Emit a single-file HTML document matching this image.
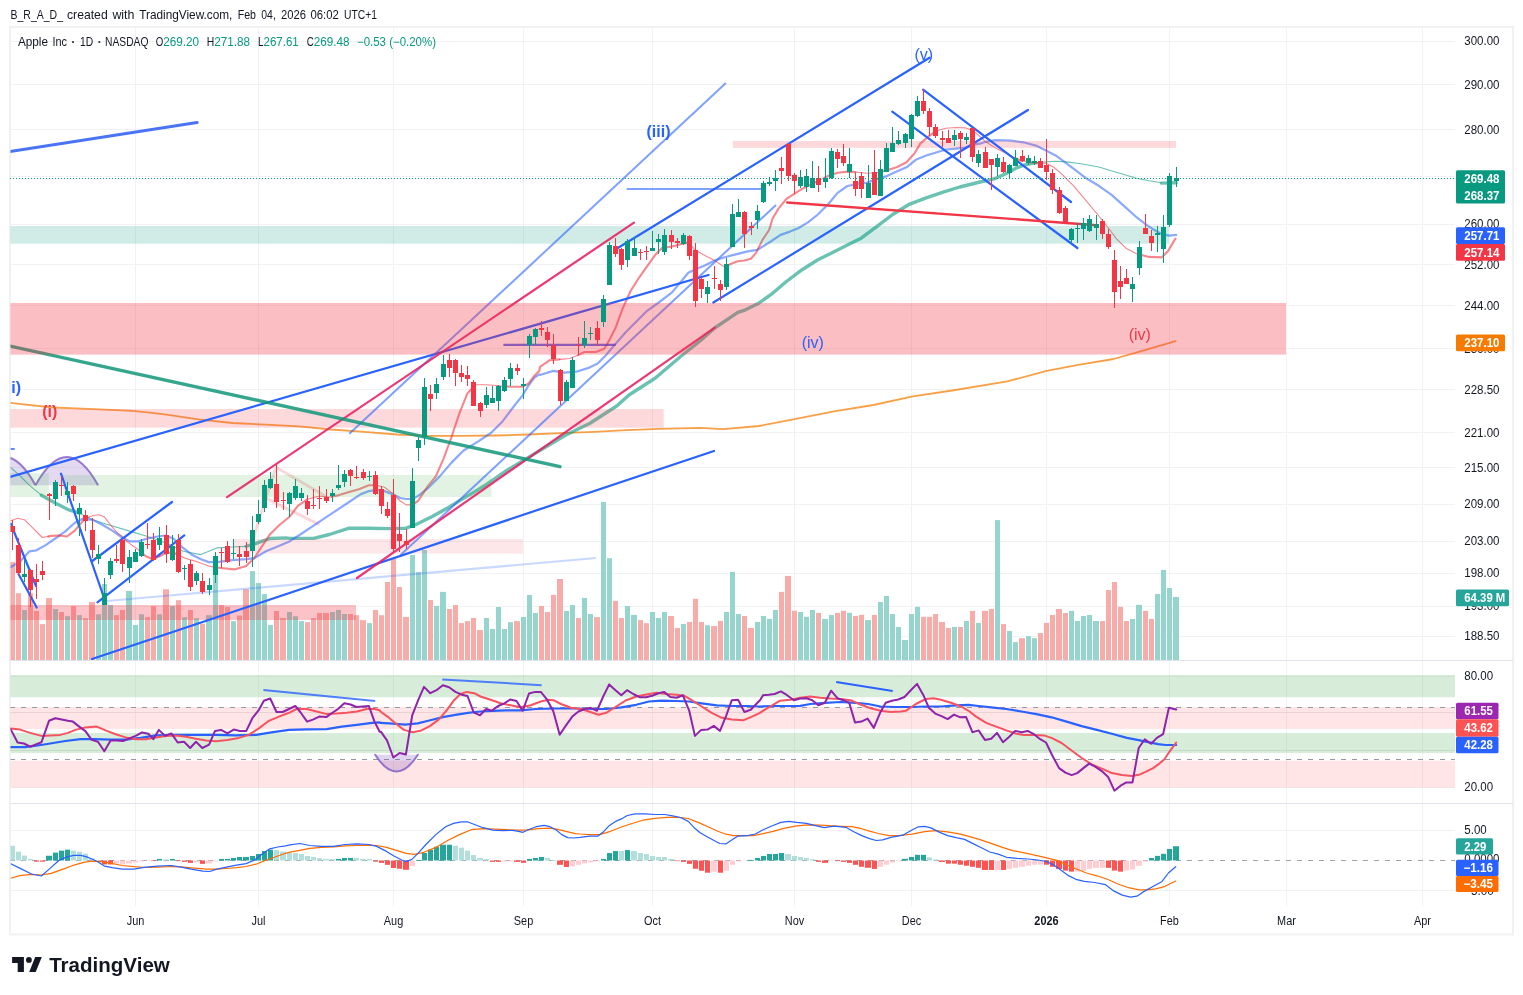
<!DOCTYPE html><html><head><meta charset="utf-8"><title>AAPL chart</title><style>html,body{margin:0;padding:0;background:#fff}body{width:1523px;height:995px;overflow:hidden}svg{will-change:transform}</style></head><body><svg width="1523" height="995" viewBox="0 0 1523 995" style="display:block;font-family:'Liberation Sans',sans-serif">
<rect x="0.00" y="0.00" width="1523.00" height="995.00" fill="#ffffff" />
<rect x="10" y="27" width="1503" height="907.4" fill="#fff" stroke="#f0f1f3" stroke-width="2"/>
<defs><clipPath id="cm"><rect x="10.5" y="27.5" width="1444.5" height="632.5"/></clipPath><clipPath id="cr"><rect x="10.5" y="661" width="1444.5" height="142"/></clipPath><clipPath id="cd"><rect x="10.5" y="804" width="1444.5" height="102.5"/></clipPath></defs>
<line x1="135.5" y1="27.0" x2="135.5" y2="906.5" stroke="#f0f2f3" stroke-width="1" />
<line x1="258.5" y1="27.0" x2="258.5" y2="906.5" stroke="#f0f2f3" stroke-width="1" />
<line x1="393.5" y1="27.0" x2="393.5" y2="906.5" stroke="#f0f2f3" stroke-width="1" />
<line x1="523.5" y1="27.0" x2="523.5" y2="906.5" stroke="#f0f2f3" stroke-width="1" />
<line x1="652.5" y1="27.0" x2="652.5" y2="906.5" stroke="#f0f2f3" stroke-width="1" />
<line x1="794.5" y1="27.0" x2="794.5" y2="906.5" stroke="#f0f2f3" stroke-width="1" />
<line x1="911.5" y1="27.0" x2="911.5" y2="906.5" stroke="#f0f2f3" stroke-width="1" />
<line x1="1046.5" y1="27.0" x2="1046.5" y2="906.5" stroke="#f0f2f3" stroke-width="1" />
<line x1="1169.5" y1="27.0" x2="1169.5" y2="906.5" stroke="#f0f2f3" stroke-width="1" />
<line x1="1286.5" y1="27.0" x2="1286.5" y2="906.5" stroke="#f0f2f3" stroke-width="1" />
<line x1="1422.5" y1="27.0" x2="1422.5" y2="906.5" stroke="#f0f2f3" stroke-width="1" />
<line x1="10.0" y1="41.5" x2="1455.0" y2="41.5" stroke="#f0f2f3" stroke-width="1" />
<line x1="10.0" y1="84.5" x2="1455.0" y2="84.5" stroke="#f0f2f3" stroke-width="1" />
<line x1="10.0" y1="129.5" x2="1455.0" y2="129.5" stroke="#f0f2f3" stroke-width="1" />
<line x1="10.0" y1="176.5" x2="1455.0" y2="176.5" stroke="#f0f2f3" stroke-width="1" />
<line x1="10.0" y1="224.5" x2="1455.0" y2="224.5" stroke="#f0f2f3" stroke-width="1" />
<line x1="10.0" y1="264.5" x2="1455.0" y2="264.5" stroke="#f0f2f3" stroke-width="1" />
<line x1="10.0" y1="305.5" x2="1455.0" y2="305.5" stroke="#f0f2f3" stroke-width="1" />
<line x1="10.0" y1="348.5" x2="1455.0" y2="348.5" stroke="#f0f2f3" stroke-width="1" />
<line x1="10.0" y1="389.5" x2="1455.0" y2="389.5" stroke="#f0f2f3" stroke-width="1" />
<line x1="10.0" y1="432.5" x2="1455.0" y2="432.5" stroke="#f0f2f3" stroke-width="1" />
<line x1="10.0" y1="467.5" x2="1455.0" y2="467.5" stroke="#f0f2f3" stroke-width="1" />
<line x1="10.0" y1="504.5" x2="1455.0" y2="504.5" stroke="#f0f2f3" stroke-width="1" />
<line x1="10.0" y1="541.5" x2="1455.0" y2="541.5" stroke="#f0f2f3" stroke-width="1" />
<line x1="10.0" y1="573.5" x2="1455.0" y2="573.5" stroke="#f0f2f3" stroke-width="1" />
<line x1="10.0" y1="606.5" x2="1455.0" y2="606.5" stroke="#f0f2f3" stroke-width="1" />
<line x1="10.0" y1="636.5" x2="1455.0" y2="636.5" stroke="#f0f2f3" stroke-width="1" />
<line x1="10.0" y1="676.5" x2="1455.0" y2="676.5" stroke="#f0f2f3" stroke-width="1" />
<line x1="10.0" y1="787.5" x2="1455.0" y2="787.5" stroke="#f0f2f3" stroke-width="1" />
<line x1="10.0" y1="830.5" x2="1455.0" y2="830.5" stroke="#f0f2f3" stroke-width="1" />
<line x1="10.0" y1="890.5" x2="1455.0" y2="890.5" stroke="#f0f2f3" stroke-width="1" />
<line x1="10.0" y1="660.5" x2="1513.0" y2="660.5" stroke="#e0e3eb" stroke-width="1" />
<line x1="10.0" y1="803.5" x2="1513.0" y2="803.5" stroke="#e0e3eb" stroke-width="1" />
<g clip-path="url(#cm)">
<rect x="10.00" y="561.99" width="5.00" height="98.01" fill="#f7a9a7" opacity="0.96"/>
<rect x="16.00" y="593.20" width="5.00" height="66.80" fill="#f7a9a7" opacity="0.96"/>
<rect x="22.00" y="610.05" width="5.00" height="49.95" fill="#92d2cc" opacity="0.96"/>
<rect x="28.00" y="593.20" width="5.00" height="66.80" fill="#f7a9a7" opacity="0.96"/>
<rect x="34.00" y="610.97" width="5.00" height="49.03" fill="#f7a9a7" opacity="0.96"/>
<rect x="40.00" y="624.14" width="5.00" height="35.86" fill="#f7a9a7" opacity="0.96"/>
<rect x="46.00" y="598.07" width="6.00" height="61.93" fill="#f7a9a7" opacity="0.96"/>
<rect x="53.00" y="609.00" width="5.00" height="51.00" fill="#92d2cc" opacity="0.96"/>
<rect x="59.00" y="612.03" width="5.00" height="47.97" fill="#f7a9a7" opacity="0.96"/>
<rect x="65.00" y="616.24" width="5.00" height="43.76" fill="#92d2cc" opacity="0.96"/>
<rect x="71.00" y="605.97" width="5.00" height="54.03" fill="#f7a9a7" opacity="0.96"/>
<rect x="77.00" y="615.19" width="5.00" height="44.81" fill="#92d2cc" opacity="0.96"/>
<rect x="83.00" y="618.22" width="5.00" height="41.78" fill="#f7a9a7" opacity="0.96"/>
<rect x="89.00" y="602.02" width="6.00" height="57.98" fill="#f7a9a7" opacity="0.96"/>
<rect x="96.00" y="614.27" width="5.00" height="45.73" fill="#92d2cc" opacity="0.96"/>
<rect x="102.00" y="583.98" width="5.00" height="76.02" fill="#92d2cc" opacity="0.96"/>
<rect x="108.00" y="605.05" width="5.00" height="54.95" fill="#92d2cc" opacity="0.96"/>
<rect x="114.00" y="615.19" width="5.00" height="44.81" fill="#f7a9a7" opacity="0.96"/>
<rect x="120.00" y="609.92" width="5.00" height="50.08" fill="#f7a9a7" opacity="0.96"/>
<rect x="126.00" y="590.96" width="6.00" height="69.04" fill="#92d2cc" opacity="0.96"/>
<rect x="133.00" y="625.06" width="5.00" height="34.94" fill="#92d2cc" opacity="0.96"/>
<rect x="139.00" y="614.27" width="5.00" height="45.73" fill="#92d2cc" opacity="0.96"/>
<rect x="145.00" y="617.16" width="5.00" height="42.84" fill="#f7a9a7" opacity="0.96"/>
<rect x="151.00" y="605.97" width="5.00" height="54.03" fill="#f7a9a7" opacity="0.96"/>
<rect x="157.00" y="614.27" width="5.00" height="45.73" fill="#92d2cc" opacity="0.96"/>
<rect x="163.00" y="589.25" width="6.00" height="70.75" fill="#f7a9a7" opacity="0.96"/>
<rect x="170.00" y="605.97" width="5.00" height="54.03" fill="#92d2cc" opacity="0.96"/>
<rect x="176.00" y="600.18" width="5.00" height="59.82" fill="#f7a9a7" opacity="0.96"/>
<rect x="182.00" y="617.16" width="5.00" height="42.84" fill="#92d2cc" opacity="0.96"/>
<rect x="188.00" y="610.05" width="5.00" height="49.95" fill="#f7a9a7" opacity="0.96"/>
<rect x="194.00" y="618.22" width="5.00" height="41.78" fill="#92d2cc" opacity="0.96"/>
<rect x="200.00" y="623.75" width="5.00" height="36.25" fill="#f7a9a7" opacity="0.96"/>
<rect x="206.00" y="615.19" width="6.00" height="44.81" fill="#92d2cc" opacity="0.96"/>
<rect x="213.00" y="575.03" width="5.00" height="84.97" fill="#92d2cc" opacity="0.96"/>
<rect x="219.00" y="605.05" width="5.00" height="54.95" fill="#f7a9a7" opacity="0.96"/>
<rect x="225.00" y="607.02" width="5.00" height="52.98" fill="#f7a9a7" opacity="0.96"/>
<rect x="231.00" y="621.11" width="5.00" height="38.89" fill="#92d2cc" opacity="0.96"/>
<rect x="237.00" y="615.58" width="5.00" height="44.42" fill="#f7a9a7" opacity="0.96"/>
<rect x="243.00" y="589.25" width="6.00" height="70.75" fill="#f7a9a7" opacity="0.96"/>
<rect x="250.00" y="571.08" width="5.00" height="88.92" fill="#92d2cc" opacity="0.96"/>
<rect x="256.00" y="583.06" width="5.00" height="76.94" fill="#92d2cc" opacity="0.96"/>
<rect x="262.00" y="594.12" width="5.00" height="65.88" fill="#92d2cc" opacity="0.96"/>
<rect x="268.00" y="625.06" width="5.00" height="34.94" fill="#92d2cc" opacity="0.96"/>
<rect x="274.00" y="610.97" width="5.00" height="49.03" fill="#f7a9a7" opacity="0.96"/>
<rect x="280.00" y="617.95" width="6.00" height="42.05" fill="#f7a9a7" opacity="0.96"/>
<rect x="287.00" y="612.03" width="5.00" height="47.97" fill="#92d2cc" opacity="0.96"/>
<rect x="293.00" y="616.24" width="5.00" height="43.76" fill="#92d2cc" opacity="0.96"/>
<rect x="299.00" y="621.11" width="5.00" height="38.89" fill="#92d2cc" opacity="0.96"/>
<rect x="305.00" y="622.17" width="5.00" height="37.83" fill="#f7a9a7" opacity="0.96"/>
<rect x="311.00" y="617.95" width="5.00" height="42.05" fill="#f7a9a7" opacity="0.96"/>
<rect x="317.00" y="612.95" width="5.00" height="47.05" fill="#f7a9a7" opacity="0.96"/>
<rect x="323.00" y="612.95" width="6.00" height="47.05" fill="#f7a9a7" opacity="0.96"/>
<rect x="330.00" y="612.03" width="5.00" height="47.97" fill="#92d2cc" opacity="0.96"/>
<rect x="336.00" y="609.92" width="5.00" height="50.08" fill="#92d2cc" opacity="0.96"/>
<rect x="342.00" y="614.00" width="5.00" height="46.00" fill="#92d2cc" opacity="0.96"/>
<rect x="348.00" y="614.00" width="5.00" height="46.00" fill="#f7a9a7" opacity="0.96"/>
<rect x="354.00" y="615.19" width="5.00" height="44.81" fill="#f7a9a7" opacity="0.96"/>
<rect x="360.00" y="620.19" width="6.00" height="39.81" fill="#f7a9a7" opacity="0.96"/>
<rect x="367.00" y="623.09" width="5.00" height="36.91" fill="#92d2cc" opacity="0.96"/>
<rect x="373.00" y="609.92" width="5.00" height="50.08" fill="#f7a9a7" opacity="0.96"/>
<rect x="379.00" y="615.19" width="5.00" height="44.81" fill="#f7a9a7" opacity="0.96"/>
<rect x="385.00" y="582.01" width="5.00" height="77.99" fill="#f7a9a7" opacity="0.96"/>
<rect x="391.00" y="558.31" width="5.00" height="101.69" fill="#f7a9a7" opacity="0.96"/>
<rect x="397.00" y="587.01" width="5.00" height="72.99" fill="#f7a9a7" opacity="0.96"/>
<rect x="403.00" y="616.90" width="6.00" height="43.10" fill="#f7a9a7" opacity="0.96"/>
<rect x="410.00" y="555.02" width="5.00" height="104.98" fill="#92d2cc" opacity="0.96"/>
<rect x="416.00" y="572.13" width="5.00" height="87.87" fill="#92d2cc" opacity="0.96"/>
<rect x="422.00" y="550.01" width="5.00" height="109.99" fill="#92d2cc" opacity="0.96"/>
<rect x="428.00" y="600.05" width="5.00" height="59.95" fill="#f7a9a7" opacity="0.96"/>
<rect x="434.00" y="605.97" width="5.00" height="54.03" fill="#92d2cc" opacity="0.96"/>
<rect x="440.00" y="591.88" width="6.00" height="68.12" fill="#92d2cc" opacity="0.96"/>
<rect x="447.00" y="609.00" width="5.00" height="51.00" fill="#f7a9a7" opacity="0.96"/>
<rect x="453.00" y="605.05" width="5.00" height="54.95" fill="#f7a9a7" opacity="0.96"/>
<rect x="459.00" y="623.09" width="5.00" height="36.91" fill="#f7a9a7" opacity="0.96"/>
<rect x="465.00" y="621.11" width="5.00" height="38.89" fill="#f7a9a7" opacity="0.96"/>
<rect x="471.00" y="617.95" width="5.00" height="42.05" fill="#f7a9a7" opacity="0.96"/>
<rect x="477.00" y="630.07" width="6.00" height="29.93" fill="#f7a9a7" opacity="0.96"/>
<rect x="484.00" y="617.95" width="5.00" height="42.05" fill="#92d2cc" opacity="0.96"/>
<rect x="490.00" y="629.01" width="5.00" height="30.99" fill="#92d2cc" opacity="0.96"/>
<rect x="496.00" y="607.02" width="5.00" height="52.98" fill="#92d2cc" opacity="0.96"/>
<rect x="502.00" y="629.01" width="5.00" height="30.99" fill="#92d2cc" opacity="0.96"/>
<rect x="508.00" y="622.17" width="5.00" height="37.83" fill="#92d2cc" opacity="0.96"/>
<rect x="514.00" y="621.11" width="6.00" height="38.89" fill="#f7a9a7" opacity="0.96"/>
<rect x="521.00" y="616.90" width="5.00" height="43.10" fill="#92d2cc" opacity="0.96"/>
<rect x="527.00" y="594.91" width="5.00" height="65.09" fill="#92d2cc" opacity="0.96"/>
<rect x="533.00" y="612.95" width="5.00" height="47.05" fill="#92d2cc" opacity="0.96"/>
<rect x="539.00" y="605.97" width="5.00" height="54.03" fill="#f7a9a7" opacity="0.96"/>
<rect x="545.00" y="612.03" width="5.00" height="47.97" fill="#f7a9a7" opacity="0.96"/>
<rect x="551.00" y="594.91" width="5.00" height="65.09" fill="#f7a9a7" opacity="0.96"/>
<rect x="557.00" y="578.98" width="6.00" height="81.02" fill="#f7a9a7" opacity="0.96"/>
<rect x="564.00" y="610.97" width="5.00" height="49.03" fill="#92d2cc" opacity="0.96"/>
<rect x="570.00" y="605.05" width="5.00" height="54.95" fill="#92d2cc" opacity="0.96"/>
<rect x="576.00" y="618.01" width="5.00" height="41.99" fill="#f7a9a7" opacity="0.96"/>
<rect x="582.00" y="597.90" width="5.00" height="62.10" fill="#92d2cc" opacity="0.96"/>
<rect x="588.00" y="614.05" width="5.00" height="45.95" fill="#92d2cc" opacity="0.96"/>
<rect x="594.00" y="617.15" width="6.00" height="42.85" fill="#f7a9a7" opacity="0.96"/>
<rect x="601.00" y="502.03" width="5.00" height="157.97" fill="#92d2cc" opacity="0.96"/>
<rect x="607.00" y="558.21" width="5.00" height="101.79" fill="#92d2cc" opacity="0.96"/>
<rect x="613.00" y="600.82" width="5.00" height="59.18" fill="#f7a9a7" opacity="0.96"/>
<rect x="619.00" y="618.01" width="5.00" height="41.99" fill="#f7a9a7" opacity="0.96"/>
<rect x="625.00" y="605.98" width="5.00" height="54.02" fill="#92d2cc" opacity="0.96"/>
<rect x="631.00" y="614.91" width="6.00" height="45.09" fill="#92d2cc" opacity="0.96"/>
<rect x="638.00" y="620.07" width="5.00" height="39.93" fill="#f7a9a7" opacity="0.96"/>
<rect x="644.00" y="623.16" width="5.00" height="36.84" fill="#f7a9a7" opacity="0.96"/>
<rect x="650.00" y="611.99" width="5.00" height="48.01" fill="#92d2cc" opacity="0.96"/>
<rect x="656.00" y="618.01" width="5.00" height="41.99" fill="#92d2cc" opacity="0.96"/>
<rect x="662.00" y="611.99" width="5.00" height="48.01" fill="#92d2cc" opacity="0.96"/>
<rect x="668.00" y="615.95" width="6.00" height="44.05" fill="#f7a9a7" opacity="0.96"/>
<rect x="675.00" y="627.97" width="5.00" height="32.03" fill="#f7a9a7" opacity="0.96"/>
<rect x="681.00" y="624.02" width="5.00" height="35.98" fill="#92d2cc" opacity="0.96"/>
<rect x="687.00" y="621.96" width="5.00" height="38.04" fill="#f7a9a7" opacity="0.96"/>
<rect x="693.00" y="598.76" width="5.00" height="61.24" fill="#f7a9a7" opacity="0.96"/>
<rect x="699.00" y="621.96" width="5.00" height="38.04" fill="#f7a9a7" opacity="0.96"/>
<rect x="705.00" y="625.22" width="5.00" height="34.78" fill="#92d2cc" opacity="0.96"/>
<rect x="711.00" y="626.08" width="6.00" height="33.92" fill="#f7a9a7" opacity="0.96"/>
<rect x="718.00" y="620.93" width="5.00" height="39.07" fill="#f7a9a7" opacity="0.96"/>
<rect x="724.00" y="611.99" width="5.00" height="48.01" fill="#92d2cc" opacity="0.96"/>
<rect x="730.00" y="571.96" width="5.00" height="88.04" fill="#92d2cc" opacity="0.96"/>
<rect x="736.00" y="614.05" width="5.00" height="45.95" fill="#92d2cc" opacity="0.96"/>
<rect x="742.00" y="615.95" width="5.00" height="44.05" fill="#f7a9a7" opacity="0.96"/>
<rect x="748.00" y="627.97" width="6.00" height="32.03" fill="#f7a9a7" opacity="0.96"/>
<rect x="755.00" y="621.96" width="5.00" height="38.04" fill="#92d2cc" opacity="0.96"/>
<rect x="761.00" y="615.95" width="5.00" height="44.05" fill="#92d2cc" opacity="0.96"/>
<rect x="767.00" y="618.87" width="5.00" height="41.13" fill="#92d2cc" opacity="0.96"/>
<rect x="773.00" y="609.93" width="5.00" height="50.07" fill="#92d2cc" opacity="0.96"/>
<rect x="779.00" y="591.89" width="5.00" height="68.11" fill="#f7a9a7" opacity="0.96"/>
<rect x="785.00" y="575.91" width="6.00" height="84.09" fill="#f7a9a7" opacity="0.96"/>
<rect x="792.00" y="610.79" width="5.00" height="49.21" fill="#f7a9a7" opacity="0.96"/>
<rect x="798.00" y="611.99" width="5.00" height="48.01" fill="#92d2cc" opacity="0.96"/>
<rect x="804.00" y="616.80" width="5.00" height="43.20" fill="#92d2cc" opacity="0.96"/>
<rect x="810.00" y="609.93" width="5.00" height="50.07" fill="#92d2cc" opacity="0.96"/>
<rect x="816.00" y="612.85" width="5.00" height="47.15" fill="#f7a9a7" opacity="0.96"/>
<rect x="822.00" y="618.87" width="6.00" height="41.13" fill="#92d2cc" opacity="0.96"/>
<rect x="829.00" y="614.91" width="5.00" height="45.09" fill="#92d2cc" opacity="0.96"/>
<rect x="835.00" y="612.85" width="5.00" height="47.15" fill="#f7a9a7" opacity="0.96"/>
<rect x="841.00" y="610.79" width="5.00" height="49.21" fill="#f7a9a7" opacity="0.96"/>
<rect x="847.00" y="612.85" width="5.00" height="47.15" fill="#92d2cc" opacity="0.96"/>
<rect x="853.00" y="615.95" width="5.00" height="44.05" fill="#f7a9a7" opacity="0.96"/>
<rect x="859.00" y="614.91" width="5.00" height="45.09" fill="#f7a9a7" opacity="0.96"/>
<rect x="865.00" y="620.07" width="6.00" height="39.93" fill="#92d2cc" opacity="0.96"/>
<rect x="872.00" y="614.91" width="5.00" height="45.09" fill="#f7a9a7" opacity="0.96"/>
<rect x="878.00" y="602.03" width="5.00" height="57.97" fill="#92d2cc" opacity="0.96"/>
<rect x="884.00" y="596.01" width="5.00" height="63.99" fill="#92d2cc" opacity="0.96"/>
<rect x="890.00" y="614.05" width="5.00" height="45.95" fill="#92d2cc" opacity="0.96"/>
<rect x="896.00" y="626.94" width="5.00" height="33.06" fill="#92d2cc" opacity="0.96"/>
<rect x="902.00" y="640.00" width="6.00" height="20.00" fill="#92d2cc" opacity="0.96"/>
<rect x="909.00" y="614.05" width="5.00" height="45.95" fill="#92d2cc" opacity="0.96"/>
<rect x="915.00" y="606.84" width="5.00" height="53.16" fill="#92d2cc" opacity="0.96"/>
<rect x="921.00" y="616.80" width="5.00" height="43.20" fill="#f7a9a7" opacity="0.96"/>
<rect x="927.00" y="616.80" width="5.00" height="43.20" fill="#f7a9a7" opacity="0.96"/>
<rect x="933.00" y="614.05" width="5.00" height="45.95" fill="#f7a9a7" opacity="0.96"/>
<rect x="939.00" y="621.96" width="6.00" height="38.04" fill="#f7a9a7" opacity="0.96"/>
<rect x="946.00" y="627.97" width="5.00" height="32.03" fill="#f7a9a7" opacity="0.96"/>
<rect x="952.00" y="627.02" width="5.00" height="32.98" fill="#92d2cc" opacity="0.96"/>
<rect x="958.00" y="627.02" width="5.00" height="32.98" fill="#f7a9a7" opacity="0.96"/>
<rect x="964.00" y="621.00" width="5.00" height="39.00" fill="#92d2cc" opacity="0.96"/>
<rect x="970.00" y="610.86" width="5.00" height="49.14" fill="#f7a9a7" opacity="0.96"/>
<rect x="976.00" y="622.89" width="5.00" height="37.11" fill="#92d2cc" opacity="0.96"/>
<rect x="982.00" y="610.86" width="6.00" height="49.14" fill="#f7a9a7" opacity="0.96"/>
<rect x="989.00" y="608.97" width="5.00" height="51.03" fill="#f7a9a7" opacity="0.96"/>
<rect x="995.00" y="520.09" width="5.00" height="139.91" fill="#92d2cc" opacity="0.96"/>
<rect x="1001.00" y="624.10" width="5.00" height="35.90" fill="#f7a9a7" opacity="0.96"/>
<rect x="1007.00" y="630.97" width="5.00" height="29.03" fill="#92d2cc" opacity="0.96"/>
<rect x="1013.00" y="642.15" width="5.00" height="17.85" fill="#92d2cc" opacity="0.96"/>
<rect x="1019.00" y="638.19" width="6.00" height="21.81" fill="#f7a9a7" opacity="0.96"/>
<rect x="1026.00" y="636.13" width="5.00" height="23.87" fill="#92d2cc" opacity="0.96"/>
<rect x="1032.00" y="638.19" width="5.00" height="21.81" fill="#92d2cc" opacity="0.96"/>
<rect x="1038.00" y="633.04" width="5.00" height="26.96" fill="#f7a9a7" opacity="0.96"/>
<rect x="1044.00" y="622.89" width="5.00" height="37.11" fill="#f7a9a7" opacity="0.96"/>
<rect x="1050.00" y="614.98" width="5.00" height="45.02" fill="#f7a9a7" opacity="0.96"/>
<rect x="1056.00" y="608.97" width="6.00" height="51.03" fill="#f7a9a7" opacity="0.96"/>
<rect x="1063.00" y="612.92" width="5.00" height="47.08" fill="#f7a9a7" opacity="0.96"/>
<rect x="1069.00" y="610.86" width="5.00" height="49.14" fill="#92d2cc" opacity="0.96"/>
<rect x="1075.00" y="621.00" width="5.00" height="39.00" fill="#92d2cc" opacity="0.96"/>
<rect x="1081.00" y="616.02" width="5.00" height="43.98" fill="#92d2cc" opacity="0.96"/>
<rect x="1087.00" y="614.98" width="5.00" height="45.02" fill="#92d2cc" opacity="0.96"/>
<rect x="1093.00" y="621.00" width="6.00" height="39.00" fill="#92d2cc" opacity="0.96"/>
<rect x="1100.00" y="621.00" width="5.00" height="39.00" fill="#f7a9a7" opacity="0.96"/>
<rect x="1106.00" y="590.06" width="5.00" height="69.94" fill="#f7a9a7" opacity="0.96"/>
<rect x="1112.00" y="581.98" width="5.00" height="78.02" fill="#f7a9a7" opacity="0.96"/>
<rect x="1118.00" y="606.90" width="5.00" height="53.10" fill="#f7a9a7" opacity="0.96"/>
<rect x="1124.00" y="621.00" width="5.00" height="39.00" fill="#f7a9a7" opacity="0.96"/>
<rect x="1130.00" y="618.94" width="5.00" height="41.06" fill="#92d2cc" opacity="0.96"/>
<rect x="1136.00" y="604.84" width="6.00" height="55.16" fill="#92d2cc" opacity="0.96"/>
<rect x="1143.00" y="610.86" width="5.00" height="49.14" fill="#f7a9a7" opacity="0.96"/>
<rect x="1149.00" y="618.94" width="5.00" height="41.06" fill="#f7a9a7" opacity="0.96"/>
<rect x="1155.00" y="594.01" width="5.00" height="65.99" fill="#92d2cc" opacity="0.96"/>
<rect x="1161.00" y="569.94" width="5.00" height="90.06" fill="#92d2cc" opacity="0.96"/>
<rect x="1167.00" y="587.99" width="5.00" height="72.01" fill="#92d2cc" opacity="0.96"/>
<rect x="1173.00" y="596.93" width="6.00" height="63.07" fill="#92d2cc" opacity="0.96"/>
<path d="M-27.1,485.2 Q4.2,428.6 35.5,485.2 Z" fill="rgba(126,87,194,0.22)" stroke="none"/>
<path d="M-27.1,485.2 Q4.2,428.6 35.5,485.2" fill="none" stroke="rgba(126,87,194,0.78)" stroke-width="2"/>
<path d="M35.5,485.2 Q66.8,428.6 98.1,485.2 Z" fill="rgba(126,87,194,0.22)" stroke="none"/>
<path d="M35.5,485.2 Q66.8,428.6 98.1,485.2" fill="none" stroke="rgba(126,87,194,0.78)" stroke-width="2"/>
<line x1="252.0" y1="542.0" x2="275.4" y2="468.7" stroke="rgba(242,54,69,0.2)" stroke-width="3" />
<line x1="275.4" y1="467.0" x2="327.0" y2="497.0" stroke="rgba(242,54,69,0.2)" stroke-width="3" />
<line x1="263.5" y1="497.2" x2="319.4" y2="524.6" stroke="rgba(242,54,69,0.2)" stroke-width="3" />
<polyline points="10.0,402.9 52.7,407.5 100.0,409.3 131.7,410.8 150.0,412.6 170.0,415.2 185.0,417.4 200.0,419.6 232.8,423.0 265.7,424.6 298.5,426.3 331.3,429.5 364.2,431.8 397.0,434.5 429.8,435.8 462.6,435.8 495.5,435.5 528.3,434.5 561.1,433.2 594.0,431.8 626.8,430.2 659.6,428.9 700.0,427.9 723.6,429.1 759.0,426.0 794.6,419.2 834.0,411.4 873.4,405.0 912.8,396.4 952.2,390.5 1007.3,381.4 1046.7,370.8 1078.3,364.9 1113.7,359.0 1141.3,351.1 1175.6,341.2" fill="none" stroke="rgba(245,124,0,0.72)" stroke-width="1.8" stroke-linejoin="round" stroke-linecap="round" />
<polyline points="10.8,467.6 19.7,475.5 29.5,485.3 41.4,495.2" fill="none" stroke="rgba(8,153,129,0.6)" stroke-width="1.1" stroke-linejoin="round" stroke-linecap="round" />
<polyline points="41.4,495.2 55.2,503.0 68.9,509.9 78.8,512.9" fill="none" stroke="rgba(8,153,129,0.6)" stroke-width="3.4" stroke-linejoin="round" stroke-linecap="round" />
<polyline points="78.8,512.9 92.6,519.8 108.3,524.7 128.0,530.6 147.7,536.5 167.4,543.4 183.2,551.3 200.9,554.6 208.8,551.3 216.7,547.9 232.4,547.0 246.2,546.4" fill="none" stroke="rgba(8,153,129,0.6)" stroke-width="1.1" stroke-linejoin="round" stroke-linecap="round" />
<polyline points="246.2,546.4 256.1,543.4 269.8,538.5 285.6,537.9 290.0,538.4 313.6,538.4 329.4,534.5 349.1,528.2 368.8,528.2 388.5,528.6 406.2,528.2 418.0,523.6 431.8,516.7 447.6,507.9 467.3,496.1 487.0,484.2 506.7,470.5 526.4,458.6 546.1,446.8 565.8,435.0 590.0,423.2 616.7,406.0 629.0,395.0 655.4,378.0 680.0,357.0 700.0,341.0 714.7,328.0 737.8,312.4 745.0,310.1 758.8,303.2 772.6,293.3 786.4,281.5 802.1,269.7 817.9,259.8 833.6,252.0 849.4,244.1 861.2,238.2 877.0,226.4 892.7,214.5 908.5,204.7 926.2,197.8 943.9,191.9 959.7,187.0 980.0,182.0 985.7,180.8 995.7,178.3 1005.8,173.8 1015.8,168.2 1025.9,164.5 1035.9,162.7" fill="none" stroke="rgba(8,153,129,0.6)" stroke-width="3.4" stroke-linejoin="round" stroke-linecap="round" />
<polyline points="1035.9,162.7 1046.0,161.9 1056.0,161.2 1066.1,161.9 1081.2,163.7 1098.8,167.0 1111.3,170.7 1123.9,174.5 1136.5,178.3 1149.0,180.8 1161.6,182.8" fill="none" stroke="rgba(8,153,129,0.6)" stroke-width="1.1" stroke-linejoin="round" stroke-linecap="round" />
<polyline points="1161.6,183.1 1176.2,182.8" fill="none" stroke="rgba(8,153,129,0.6)" stroke-width="3.4" stroke-linejoin="round" stroke-linecap="round" />
<polyline points="10.8,567.0 19.7,562.1 29.5,551.3 36.4,550.3 45.3,545.4 55.2,538.5 65.0,531.6 74.8,522.7 82.7,518.8 92.6,519.8 102.4,524.7 112.3,530.6 122.1,537.5 130.0,541.4 137.9,541.4 147.7,538.5 157.6,536.5 165.5,535.5 173.3,538.5 181.2,546.4 191.1,554.2 200.9,559.2 208.8,562.1 216.7,562.1 232.4,560.1 246.2,559.2 254.1,558.2 265.9,551.3 275.8,547.3 289.5,541.4 301.8,533.5 313.6,525.6 325.5,517.7 337.3,509.8 349.1,502.0 360.9,494.1 368.8,491.1 376.7,489.8 384.5,491.1 392.4,494.1 400.3,498.0 406.2,499.0 412.1,499.0 418.0,496.1 427.9,488.2 439.7,476.4 451.5,462.6 463.3,450.8 479.1,440.9 490.9,433.0 502.7,421.2 514.5,405.5 522.4,395.6 528.3,385.8 534.2,377.9 539.2,374.3 540.0,375.0 553.2,370.9 564.7,372.6 576.3,371.7 589.4,367.6 597.7,363.5 605.9,355.2 614.2,345.4 625.7,332.2 638.9,319.0 647.1,310.8 658.7,302.5 671.8,292.6 680.1,282.7 688.3,272.8 696.6,268.7 704.8,265.4 714.7,260.5 724.6,257.2 737.8,253.9 747.6,251.4 757.5,249.8 770.7,241.5 780.6,234.9 790.0,231.6 798.2,228.3 808.0,222.4 817.9,214.5 827.7,204.7 837.6,192.9 847.4,186.0 857.3,184.0 867.1,182.6 877.0,179.1 886.8,176.1 896.7,171.6 906.5,167.3 916.4,159.4 926.2,155.5 936.1,152.5 945.9,149.5 955.8,148.6 965.6,147.6 973.5,144.6 980.0,143.6 985.7,141.8 995.7,140.1 1010.8,140.6 1023.4,142.3 1035.9,145.6 1046.0,150.6 1056.0,155.7 1066.1,163.2 1076.1,170.7 1086.2,178.3 1098.8,185.8 1111.3,194.6 1123.9,205.9 1136.5,217.2 1146.5,224.8 1154.0,229.8 1161.6,234.1 1169.1,235.6 1176.2,234.8" fill="none" stroke="rgba(41,98,255,0.55)" stroke-width="2.2" stroke-linejoin="round" stroke-linecap="round" />
<polyline points="10.8,520.8 17.7,518.2 24.6,519.8 31.5,526.7 42.3,537.5 48.5,536.4" fill="none" stroke="rgba(242,54,69,0.6)" stroke-width="1.1" stroke-linejoin="round" stroke-linecap="round" />
<polyline points="48.5,536.4 51.2,535.9 59.1,535.5 67.0,536.5 74.8,530.6 84.7,518.8 85.5,518.5" fill="none" stroke="rgba(242,54,69,0.6)" stroke-width="2.1" stroke-linejoin="round" stroke-linecap="round" />
<polyline points="85.5,518.5 92.6,515.8 98.5,514.8 104.4,516.8 110.3,524.7 116.2,531.6 122.1,536.5 128.0,542.4 137.9,549.3 140.9,552.0" fill="none" stroke="rgba(242,54,69,0.6)" stroke-width="1.1" stroke-linejoin="round" stroke-linecap="round" />
<polyline points="140.9,552.0 145.8,556.2 153.2,559.4" fill="none" stroke="rgba(242,54,69,0.6)" stroke-width="2.1" stroke-linejoin="round" stroke-linecap="round" />
<polyline points="153.2,559.4 153.6,559.6 159.4,556.5" fill="none" stroke="rgba(242,54,69,0.6)" stroke-width="1.1" stroke-linejoin="round" stroke-linecap="round" />
<polyline points="159.4,556.5 163.5,554.2 171.4,552.3 177.3,554.2 177.8,554.5" fill="none" stroke="rgba(242,54,69,0.6)" stroke-width="2.1" stroke-linejoin="round" stroke-linecap="round" />
<polyline points="177.8,554.5 185.1,558.2 195.0,561.1 208.8,566.1 214.8,567.1" fill="none" stroke="rgba(242,54,69,0.6)" stroke-width="1.1" stroke-linejoin="round" stroke-linecap="round" />
<polyline points="214.8,567.1 220.6,568.0 234.4,569.4 246.2,566.1 254.1,558.2 262.0,546.4 269.8,534.5 279.7,524.7 289.5,516.8 297.9,505.9 307.2,499.4" fill="none" stroke="rgba(242,54,69,0.6)" stroke-width="2.1" stroke-linejoin="round" stroke-linecap="round" />
<polyline points="307.2,499.4 307.7,499.0 319.5,496.1 329.4,497.0 331.8,496.6" fill="none" stroke="rgba(242,54,69,0.6)" stroke-width="1.1" stroke-linejoin="round" stroke-linecap="round" />
<polyline points="331.8,496.6 339.2,495.1 349.1,492.1 358.9,489.2 368.8,485.2 374.9,485.2" fill="none" stroke="rgba(242,54,69,0.6)" stroke-width="2.1" stroke-linejoin="round" stroke-linecap="round" />
<polyline points="374.9,485.2 376.7,485.2 384.5,487.2 392.4,493.1 400.3,501.0 406.2,504.9 411.8,504.9" fill="none" stroke="rgba(242,54,69,0.6)" stroke-width="1.1" stroke-linejoin="round" stroke-linecap="round" />
<polyline points="411.8,504.9 412.1,504.9 418.0,501.0 427.9,486.2 435.8,476.4 443.6,458.6 451.5,437.0 459.4,413.3 467.3,393.6 473.4,386.7" fill="none" stroke="rgba(242,54,69,0.6)" stroke-width="2.1" stroke-linejoin="round" stroke-linecap="round" />
<polyline points="473.4,386.7 475.1,384.8 487.0,384.8 498.8,385.8 504.2,386.2" fill="none" stroke="rgba(242,54,69,0.6)" stroke-width="1.1" stroke-linejoin="round" stroke-linecap="round" />
<polyline points="504.2,386.2 510.6,386.7 522.4,386.7 528.3,383.8 534.2,375.9 539.2,371.0 540.0,366.8 549.9,360.2 559.6,359.4" fill="none" stroke="rgba(242,54,69,0.6)" stroke-width="2.1" stroke-linejoin="round" stroke-linecap="round" />
<polyline points="559.6,359.4 559.8,359.4 569.7,358.5 577.9,355.2 578.1,355.1" fill="none" stroke="rgba(242,54,69,0.6)" stroke-width="1.1" stroke-linejoin="round" stroke-linecap="round" />
<polyline points="578.1,355.1 584.5,352.0 596.0,352.0 604.3,348.7 609.2,340.4 615.8,327.2 622.4,309.1 630.6,291.0 638.9,277.8 647.1,266.3 655.4,254.7 662.0,248.1 671.8,246.5 681.7,244.0 688.3,242.4 689.0,243.1" fill="none" stroke="rgba(242,54,69,0.6)" stroke-width="2.1" stroke-linejoin="round" stroke-linecap="round" />
<polyline points="689.0,243.1 694.9,249.8 704.8,255.5 714.7,260.5 724.6,267.1 726.0,266.4" fill="none" stroke="rgba(242,54,69,0.6)" stroke-width="1.1" stroke-linejoin="round" stroke-linecap="round" />
<polyline points="726.0,266.4 731.2,263.8 737.8,261.3 744.4,260.5 750.9,258.8 755.9,253.1 762.5,239.9 769.1,230.0 772.6,218.5 778.5,208.6 786.4,198.8 794.2,193.9 802.1,188.9 810.0,185.0 817.9,181.1 818.3,180.8" fill="none" stroke="rgba(242,54,69,0.6)" stroke-width="2.1" stroke-linejoin="round" stroke-linecap="round" />
<polyline points="818.3,180.8 824.5,177.7" fill="none" stroke="rgba(242,54,69,0.6)" stroke-width="1.1" stroke-linejoin="round" stroke-linecap="round" />
<polyline points="824.5,177.7 827.7,176.1 837.6,172.8 847.4,171.6 855.3,172.1" fill="none" stroke="rgba(242,54,69,0.6)" stroke-width="2.1" stroke-linejoin="round" stroke-linecap="round" />
<polyline points="855.3,172.1 857.3,172.2 867.1,173.2 877.0,172.8 879.9,172.0" fill="none" stroke="rgba(242,54,69,0.6)" stroke-width="1.1" stroke-linejoin="round" stroke-linecap="round" />
<polyline points="879.9,172.0 886.8,170.2 896.7,167.3 906.5,162.3 914.4,153.5 920.3,143.6 928.2,136.7 935.4,131.3" fill="none" stroke="rgba(242,54,69,0.6)" stroke-width="2.1" stroke-linejoin="round" stroke-linecap="round" />
<polyline points="935.4,131.3 936.1,130.8 945.9,128.3 955.8,127.5 965.6,127.9 973.5,130.8 980.0,136.7 985.7,141.8 995.7,148.1 1010.8,155.7 1015.4,158.0" fill="none" stroke="rgba(242,54,69,0.6)" stroke-width="1.1" stroke-linejoin="round" stroke-linecap="round" />
<polyline points="1015.4,158.0 1020.8,160.7 1021.6,160.8" fill="none" stroke="rgba(242,54,69,0.6)" stroke-width="2.1" stroke-linejoin="round" stroke-linecap="round" />
<polyline points="1021.6,160.8 1027.8,161.8" fill="none" stroke="rgba(242,54,69,0.6)" stroke-width="1.1" stroke-linejoin="round" stroke-linecap="round" />
<polyline points="1027.8,161.8 1035.9,163.2 1040.1,163.2" fill="none" stroke="rgba(242,54,69,0.6)" stroke-width="2.1" stroke-linejoin="round" stroke-linecap="round" />
<polyline points="1040.1,163.2 1046.0,163.2 1053.5,167.0 1061.1,173.3 1073.6,185.8 1086.2,200.9 1098.8,216.0 1108.8,228.5 1116.3,238.6 1126.4,248.6 1136.5,253.7 1138.6,254.2" fill="none" stroke="rgba(242,54,69,0.6)" stroke-width="1.1" stroke-linejoin="round" stroke-linecap="round" />
<polyline points="1138.6,254.2 1149.0,256.9 1161.6,257.4 1167.9,251.2 1175.4,238.6" fill="none" stroke="rgba(242,54,69,0.6)" stroke-width="2.1" stroke-linejoin="round" stroke-linecap="round" />
<line x1="107.0" y1="601.0" x2="596.0" y2="558.0" stroke="rgba(41,98,255,0.25)" stroke-width="2.2" />
<rect x="10.00" y="409.00" width="653.70" height="18.70" fill="rgba(242,54,69,0.19)" />
<rect x="733.00" y="141.00" width="443.00" height="6.90" fill="rgba(242,54,69,0.19)" />
<rect x="233.00" y="539.00" width="290.00" height="14.50" fill="rgba(242,54,69,0.12)" />
<rect x="10.00" y="605.00" width="346.00" height="15.00" fill="rgba(242,54,69,0.30)" />
<rect x="10.00" y="226.00" width="1159.00" height="17.70" fill="rgba(8,153,129,0.19)" />
<rect x="10.00" y="473.20" width="38.90" height="23.80" fill="rgba(76,175,80,0.16)" />
<rect x="63.00" y="475.00" width="428.50" height="22.00" fill="rgba(76,175,80,0.16)" />
<line x1="10.0" y1="477.0" x2="708.5" y2="275.0" stroke="#2962ff" stroke-width="2.2" stroke-linecap="round"/>
<line x1="92.0" y1="659.0" x2="714.0" y2="451.0" stroke="#2962ff" stroke-width="2.2" stroke-linecap="round"/>
<line x1="617.8" y1="248.0" x2="929.5" y2="57.7" stroke="#2962ff" stroke-width="2.2" stroke-linecap="round"/>
<line x1="713.3" y1="302.5" x2="1028.0" y2="110.0" stroke="#2962ff" stroke-width="2.2" stroke-linecap="round"/>
<line x1="923.1" y1="89.6" x2="1071.0" y2="202.0" stroke="#2962ff" stroke-width="2.2" stroke-linecap="round"/>
<line x1="892.3" y1="111.7" x2="1077.4" y2="248.0" stroke="#2962ff" stroke-width="2.2" stroke-linecap="round"/>
<line x1="10.8" y1="523.7" x2="36.0" y2="586.0" stroke="#2962ff" stroke-width="2.2" stroke-linecap="round"/>
<line x1="18.5" y1="574.0" x2="36.7" y2="607.5" stroke="#2962ff" stroke-width="2.2" stroke-linecap="round"/>
<line x1="61.0" y1="473.7" x2="103.4" y2="596.0" stroke="#2962ff" stroke-width="2.2" stroke-linecap="round"/>
<line x1="92.3" y1="561.0" x2="172.0" y2="502.0" stroke="#2962ff" stroke-width="2.2" stroke-linecap="round"/>
<line x1="97.4" y1="602.4" x2="184.3" y2="535.3" stroke="#2962ff" stroke-width="2.2" stroke-linecap="round"/>
<line x1="10.0" y1="151.5" x2="197.0" y2="122.5" stroke="#4a74f5" stroke-width="3.2" stroke-linecap="round"/>
<line x1="503.4" y1="344.9" x2="615.7" y2="344.9" stroke="rgba(41,60,230,0.75)" stroke-width="2.2" />
<line x1="349.3" y1="433.8" x2="725.9" y2="83.1" stroke="rgba(41,98,255,0.6)" stroke-width="2" />
<line x1="400.3" y1="555.2" x2="776.0" y2="205.0" stroke="rgba(41,98,255,0.6)" stroke-width="2" />
<line x1="626.6" y1="188.9" x2="761.0" y2="188.9" stroke="rgba(41,98,255,0.6)" stroke-width="2" />
<line x1="227.0" y1="497.2" x2="634.0" y2="222.6" stroke="#e91e63" stroke-width="2.2" stroke-linecap="round" opacity="0.88"/>
<line x1="357.0" y1="578.0" x2="714.7" y2="327.7" stroke="#e91e63" stroke-width="2.2" stroke-linecap="round" opacity="0.88"/>
<line x1="10.0" y1="346.0" x2="560.0" y2="466.7" stroke="rgba(18,150,122,0.85)" stroke-width="3.3" stroke-linecap="round"/>
<line x1="787.2" y1="202.5" x2="1097.0" y2="225.2" stroke="#f23645" stroke-width="2.4" stroke-linecap="round"/>
<rect x="10.00" y="303.00" width="1276.00" height="51.60" fill="rgba(242,54,69,0.32)" />
<rect x="12.00" y="520.00" width="1.00" height="30.00" fill="#f23645" />
<rect x="10.00" y="526.00" width="5.00" height="6.00" fill="#f23645" />
<rect x="18.00" y="538.00" width="1.00" height="38.00" fill="#f23645" />
<rect x="16.00" y="545.00" width="5.00" height="28.00" fill="#f23645" />
<rect x="24.00" y="560.00" width="1.00" height="22.00" fill="#089981" />
<rect x="22.00" y="574.00" width="5.00" height="3.00" fill="#089981" />
<rect x="30.00" y="569.00" width="1.00" height="38.00" fill="#f23645" />
<rect x="28.00" y="570.00" width="5.00" height="20.00" fill="#f23645" />
<rect x="36.00" y="564.00" width="1.00" height="35.00" fill="#f23645" />
<rect x="34.00" y="579.00" width="5.00" height="3.00" fill="#f23645" />
<rect x="42.00" y="561.00" width="1.00" height="19.00" fill="#f23645" />
<rect x="40.00" y="571.00" width="5.00" height="4.00" fill="#f23645" />
<rect x="49.00" y="493.00" width="1.00" height="27.00" fill="#f23645" />
<rect x="47.00" y="494.00" width="5.00" height="2.00" fill="#f23645" />
<rect x="55.00" y="480.00" width="1.00" height="26.00" fill="#089981" />
<rect x="53.00" y="482.00" width="5.00" height="17.00" fill="#089981" />
<rect x="61.00" y="476.00" width="1.00" height="20.00" fill="#f23645" />
<rect x="59.00" y="485.00" width="5.00" height="1.00" fill="#f23645" />
<rect x="67.00" y="482.00" width="1.00" height="21.00" fill="#089981" />
<rect x="65.00" y="491.00" width="5.00" height="4.00" fill="#089981" />
<rect x="73.00" y="485.00" width="1.00" height="16.00" fill="#f23645" />
<rect x="71.00" y="486.00" width="5.00" height="8.00" fill="#f23645" />
<rect x="79.00" y="503.00" width="1.00" height="33.00" fill="#089981" />
<rect x="77.00" y="508.00" width="5.00" height="6.00" fill="#089981" />
<rect x="85.00" y="510.00" width="1.00" height="21.00" fill="#f23645" />
<rect x="83.00" y="515.00" width="5.00" height="6.00" fill="#f23645" />
<rect x="92.00" y="518.00" width="1.00" height="40.00" fill="#f23645" />
<rect x="90.00" y="530.00" width="5.00" height="20.00" fill="#f23645" />
<rect x="98.00" y="545.00" width="1.00" height="19.00" fill="#089981" />
<rect x="96.00" y="554.00" width="5.00" height="5.00" fill="#089981" />
<rect x="104.00" y="578.00" width="1.00" height="27.00" fill="#089981" />
<rect x="102.00" y="593.00" width="5.00" height="12.00" fill="#089981" />
<rect x="110.00" y="558.00" width="1.00" height="21.00" fill="#089981" />
<rect x="108.00" y="561.00" width="5.00" height="14.00" fill="#089981" />
<rect x="116.00" y="545.00" width="1.00" height="18.00" fill="#f23645" />
<rect x="114.00" y="559.00" width="5.00" height="2.00" fill="#f23645" />
<rect x="122.00" y="539.00" width="1.00" height="33.00" fill="#f23645" />
<rect x="120.00" y="540.00" width="5.00" height="24.00" fill="#f23645" />
<rect x="129.00" y="550.00" width="1.00" height="33.00" fill="#089981" />
<rect x="127.00" y="557.00" width="5.00" height="11.00" fill="#089981" />
<rect x="135.00" y="549.00" width="1.00" height="13.00" fill="#089981" />
<rect x="133.00" y="552.00" width="5.00" height="10.00" fill="#089981" />
<rect x="141.00" y="539.00" width="1.00" height="18.00" fill="#089981" />
<rect x="139.00" y="542.00" width="5.00" height="14.00" fill="#089981" />
<rect x="147.00" y="523.00" width="1.00" height="26.00" fill="#f23645" />
<rect x="145.00" y="544.00" width="5.00" height="1.00" fill="#f23645" />
<rect x="153.00" y="533.00" width="1.00" height="28.00" fill="#f23645" />
<rect x="151.00" y="540.00" width="5.00" height="20.00" fill="#f23645" />
<rect x="159.00" y="527.00" width="1.00" height="23.00" fill="#089981" />
<rect x="157.00" y="538.00" width="5.00" height="7.00" fill="#089981" />
<rect x="166.00" y="525.00" width="1.00" height="38.00" fill="#f23645" />
<rect x="164.00" y="535.00" width="5.00" height="19.00" fill="#f23645" />
<rect x="172.00" y="535.00" width="1.00" height="26.00" fill="#089981" />
<rect x="170.00" y="546.00" width="5.00" height="14.00" fill="#089981" />
<rect x="178.00" y="534.00" width="1.00" height="39.00" fill="#f23645" />
<rect x="176.00" y="540.00" width="5.00" height="32.00" fill="#f23645" />
<rect x="184.00" y="565.00" width="1.00" height="15.00" fill="#089981" />
<rect x="182.00" y="568.00" width="5.00" height="1.00" fill="#089981" />
<rect x="190.00" y="560.00" width="1.00" height="31.00" fill="#f23645" />
<rect x="188.00" y="564.00" width="5.00" height="23.00" fill="#f23645" />
<rect x="196.00" y="571.00" width="1.00" height="14.00" fill="#089981" />
<rect x="194.00" y="573.00" width="5.00" height="8.00" fill="#089981" />
<rect x="202.00" y="573.00" width="1.00" height="21.00" fill="#f23645" />
<rect x="200.00" y="581.00" width="5.00" height="11.00" fill="#f23645" />
<rect x="209.00" y="578.00" width="1.00" height="17.00" fill="#089981" />
<rect x="207.00" y="585.00" width="5.00" height="5.00" fill="#089981" />
<rect x="215.00" y="552.00" width="1.00" height="31.00" fill="#089981" />
<rect x="213.00" y="556.00" width="5.00" height="19.00" fill="#089981" />
<rect x="221.00" y="548.00" width="1.00" height="20.00" fill="#f23645" />
<rect x="219.00" y="552.00" width="5.00" height="1.00" fill="#f23645" />
<rect x="227.00" y="541.00" width="1.00" height="22.00" fill="#f23645" />
<rect x="225.00" y="546.00" width="5.00" height="16.00" fill="#f23645" />
<rect x="233.00" y="539.00" width="1.00" height="20.00" fill="#089981" />
<rect x="231.00" y="553.00" width="5.00" height="1.00" fill="#089981" />
<rect x="239.00" y="546.00" width="1.00" height="20.00" fill="#f23645" />
<rect x="237.00" y="554.00" width="5.00" height="3.00" fill="#f23645" />
<rect x="246.00" y="542.00" width="1.00" height="21.00" fill="#f23645" />
<rect x="244.00" y="551.00" width="5.00" height="6.00" fill="#f23645" />
<rect x="252.00" y="516.00" width="1.00" height="51.00" fill="#089981" />
<rect x="250.00" y="530.00" width="5.00" height="21.00" fill="#089981" />
<rect x="258.00" y="500.00" width="1.00" height="24.00" fill="#089981" />
<rect x="256.00" y="514.00" width="5.00" height="8.00" fill="#089981" />
<rect x="264.00" y="480.00" width="1.00" height="32.00" fill="#089981" />
<rect x="262.00" y="485.00" width="5.00" height="23.00" fill="#089981" />
<rect x="270.00" y="472.00" width="1.00" height="17.00" fill="#089981" />
<rect x="268.00" y="479.00" width="5.00" height="9.00" fill="#089981" />
<rect x="276.00" y="463.00" width="1.00" height="45.00" fill="#f23645" />
<rect x="274.00" y="484.00" width="5.00" height="18.00" fill="#f23645" />
<rect x="283.00" y="492.00" width="1.00" height="18.00" fill="#f23645" />
<rect x="281.00" y="500.00" width="5.00" height="1.00" fill="#f23645" />
<rect x="289.00" y="492.00" width="1.00" height="25.00" fill="#089981" />
<rect x="287.00" y="493.00" width="5.00" height="11.00" fill="#089981" />
<rect x="295.00" y="479.00" width="1.00" height="21.00" fill="#089981" />
<rect x="293.00" y="486.00" width="5.00" height="12.00" fill="#089981" />
<rect x="301.00" y="488.00" width="1.00" height="13.00" fill="#089981" />
<rect x="299.00" y="493.00" width="5.00" height="5.00" fill="#089981" />
<rect x="307.00" y="495.00" width="1.00" height="20.00" fill="#f23645" />
<rect x="305.00" y="501.00" width="5.00" height="8.00" fill="#f23645" />
<rect x="313.00" y="489.00" width="1.00" height="20.00" fill="#f23645" />
<rect x="311.00" y="505.00" width="5.00" height="1.00" fill="#f23645" />
<rect x="319.00" y="486.00" width="1.00" height="23.00" fill="#f23645" />
<rect x="317.00" y="498.00" width="5.00" height="1.00" fill="#f23645" />
<rect x="326.00" y="489.00" width="1.00" height="14.00" fill="#f23645" />
<rect x="324.00" y="497.00" width="5.00" height="4.00" fill="#f23645" />
<rect x="332.00" y="489.00" width="1.00" height="13.00" fill="#089981" />
<rect x="330.00" y="493.00" width="5.00" height="3.00" fill="#089981" />
<rect x="338.00" y="465.00" width="1.00" height="25.00" fill="#089981" />
<rect x="336.00" y="485.00" width="5.00" height="3.00" fill="#089981" />
<rect x="344.00" y="470.00" width="1.00" height="17.00" fill="#089981" />
<rect x="342.00" y="474.00" width="5.00" height="8.00" fill="#089981" />
<rect x="350.00" y="469.00" width="1.00" height="17.00" fill="#f23645" />
<rect x="348.00" y="470.00" width="5.00" height="6.00" fill="#f23645" />
<rect x="356.00" y="466.00" width="1.00" height="13.00" fill="#f23645" />
<rect x="354.00" y="477.00" width="5.00" height="1.00" fill="#f23645" />
<rect x="363.00" y="469.00" width="1.00" height="11.00" fill="#f23645" />
<rect x="361.00" y="472.00" width="5.00" height="6.00" fill="#f23645" />
<rect x="369.00" y="471.00" width="1.00" height="10.00" fill="#089981" />
<rect x="367.00" y="476.00" width="5.00" height="1.00" fill="#089981" />
<rect x="375.00" y="471.00" width="1.00" height="24.00" fill="#f23645" />
<rect x="373.00" y="475.00" width="5.00" height="19.00" fill="#f23645" />
<rect x="381.00" y="486.00" width="1.00" height="28.00" fill="#f23645" />
<rect x="379.00" y="489.00" width="5.00" height="17.00" fill="#f23645" />
<rect x="387.00" y="502.00" width="1.00" height="16.00" fill="#f23645" />
<rect x="385.00" y="509.00" width="5.00" height="7.00" fill="#f23645" />
<rect x="393.00" y="479.00" width="1.00" height="73.00" fill="#f23645" />
<rect x="391.00" y="495.00" width="5.00" height="54.00" fill="#f23645" />
<rect x="399.00" y="513.00" width="1.00" height="39.00" fill="#f23645" />
<rect x="397.00" y="534.00" width="5.00" height="7.00" fill="#f23645" />
<rect x="406.00" y="529.00" width="1.00" height="20.00" fill="#f23645" />
<rect x="404.00" y="541.00" width="5.00" height="4.00" fill="#f23645" />
<rect x="412.00" y="468.00" width="1.00" height="60.00" fill="#089981" />
<rect x="410.00" y="481.00" width="5.00" height="47.00" fill="#089981" />
<rect x="418.00" y="437.00" width="1.00" height="24.00" fill="#089981" />
<rect x="416.00" y="440.00" width="5.00" height="8.00" fill="#089981" />
<rect x="424.00" y="378.00" width="1.00" height="67.00" fill="#089981" />
<rect x="422.00" y="387.00" width="5.00" height="50.00" fill="#089981" />
<rect x="430.00" y="385.00" width="1.00" height="26.00" fill="#f23645" />
<rect x="428.00" y="394.00" width="5.00" height="5.00" fill="#f23645" />
<rect x="436.00" y="378.00" width="1.00" height="21.00" fill="#089981" />
<rect x="434.00" y="384.00" width="5.00" height="9.00" fill="#089981" />
<rect x="443.00" y="355.00" width="1.00" height="25.00" fill="#089981" />
<rect x="441.00" y="364.00" width="5.00" height="13.00" fill="#089981" />
<rect x="449.00" y="354.00" width="1.00" height="23.00" fill="#f23645" />
<rect x="447.00" y="360.00" width="5.00" height="8.00" fill="#f23645" />
<rect x="455.00" y="359.00" width="1.00" height="27.00" fill="#f23645" />
<rect x="453.00" y="360.00" width="5.00" height="13.00" fill="#f23645" />
<rect x="461.00" y="365.00" width="1.00" height="17.00" fill="#f23645" />
<rect x="459.00" y="373.00" width="5.00" height="4.00" fill="#f23645" />
<rect x="467.00" y="366.00" width="1.00" height="20.00" fill="#f23645" />
<rect x="465.00" y="375.00" width="5.00" height="4.00" fill="#f23645" />
<rect x="473.00" y="380.00" width="1.00" height="26.00" fill="#f23645" />
<rect x="471.00" y="382.00" width="5.00" height="24.00" fill="#f23645" />
<rect x="480.00" y="402.00" width="1.00" height="15.00" fill="#f23645" />
<rect x="478.00" y="403.00" width="5.00" height="8.00" fill="#f23645" />
<rect x="486.00" y="387.00" width="1.00" height="21.00" fill="#089981" />
<rect x="484.00" y="395.00" width="5.00" height="10.00" fill="#089981" />
<rect x="492.00" y="386.00" width="1.00" height="17.00" fill="#089981" />
<rect x="490.00" y="398.00" width="5.00" height="5.00" fill="#089981" />
<rect x="498.00" y="385.00" width="1.00" height="26.00" fill="#089981" />
<rect x="496.00" y="386.00" width="5.00" height="15.00" fill="#089981" />
<rect x="504.00" y="377.00" width="1.00" height="15.00" fill="#089981" />
<rect x="502.00" y="380.00" width="5.00" height="11.00" fill="#089981" />
<rect x="510.00" y="363.00" width="1.00" height="23.00" fill="#089981" />
<rect x="508.00" y="368.00" width="5.00" height="11.00" fill="#089981" />
<rect x="517.00" y="364.00" width="1.00" height="11.00" fill="#f23645" />
<rect x="515.00" y="368.00" width="5.00" height="3.00" fill="#f23645" />
<rect x="523.00" y="378.00" width="1.00" height="21.00" fill="#089981" />
<rect x="521.00" y="384.00" width="5.00" height="2.00" fill="#089981" />
<rect x="529.00" y="334.00" width="1.00" height="24.00" fill="#089981" />
<rect x="527.00" y="336.00" width="5.00" height="9.00" fill="#089981" />
<rect x="535.00" y="328.00" width="1.00" height="17.00" fill="#089981" />
<rect x="533.00" y="329.00" width="5.00" height="8.00" fill="#089981" />
<rect x="541.00" y="321.00" width="1.00" height="15.00" fill="#f23645" />
<rect x="539.00" y="328.00" width="5.00" height="2.00" fill="#f23645" />
<rect x="547.00" y="327.00" width="1.00" height="20.00" fill="#f23645" />
<rect x="545.00" y="332.00" width="5.00" height="8.00" fill="#f23645" />
<rect x="553.00" y="334.00" width="1.00" height="30.00" fill="#f23645" />
<rect x="551.00" y="345.00" width="5.00" height="14.00" fill="#f23645" />
<rect x="560.00" y="369.00" width="1.00" height="36.00" fill="#f23645" />
<rect x="558.00" y="370.00" width="5.00" height="31.00" fill="#f23645" />
<rect x="566.00" y="380.00" width="1.00" height="21.00" fill="#089981" />
<rect x="564.00" y="382.00" width="5.00" height="19.00" fill="#089981" />
<rect x="572.00" y="357.00" width="1.00" height="31.00" fill="#089981" />
<rect x="570.00" y="360.00" width="5.00" height="28.00" fill="#089981" />
<rect x="578.00" y="337.00" width="1.00" height="18.00" fill="#f23645" />
<rect x="576.00" y="345.00" width="5.00" height="1.00" fill="#f23645" />
<rect x="584.00" y="321.00" width="1.00" height="27.00" fill="#089981" />
<rect x="582.00" y="338.00" width="5.00" height="7.00" fill="#089981" />
<rect x="590.00" y="327.00" width="1.00" height="13.00" fill="#089981" />
<rect x="588.00" y="333.00" width="5.00" height="1.00" fill="#089981" />
<rect x="597.00" y="321.00" width="1.00" height="25.00" fill="#f23645" />
<rect x="595.00" y="328.00" width="5.00" height="12.00" fill="#f23645" />
<rect x="603.00" y="295.00" width="1.00" height="32.00" fill="#089981" />
<rect x="601.00" y="299.00" width="5.00" height="23.00" fill="#089981" />
<rect x="609.00" y="242.00" width="1.00" height="43.00" fill="#089981" />
<rect x="607.00" y="245.00" width="5.00" height="40.00" fill="#089981" />
<rect x="615.00" y="238.00" width="1.00" height="19.00" fill="#f23645" />
<rect x="613.00" y="246.00" width="5.00" height="8.00" fill="#f23645" />
<rect x="621.00" y="248.00" width="1.00" height="22.00" fill="#f23645" />
<rect x="619.00" y="249.00" width="5.00" height="16.00" fill="#f23645" />
<rect x="627.00" y="239.00" width="1.00" height="28.00" fill="#089981" />
<rect x="625.00" y="241.00" width="5.00" height="19.00" fill="#089981" />
<rect x="634.00" y="237.00" width="1.00" height="19.00" fill="#089981" />
<rect x="632.00" y="248.00" width="5.00" height="8.00" fill="#089981" />
<rect x="640.00" y="249.00" width="1.00" height="11.00" fill="#f23645" />
<rect x="638.00" y="252.00" width="5.00" height="1.00" fill="#f23645" />
<rect x="646.00" y="246.00" width="1.00" height="14.00" fill="#f23645" />
<rect x="644.00" y="251.00" width="5.00" height="1.00" fill="#f23645" />
<rect x="652.00" y="231.00" width="1.00" height="20.00" fill="#089981" />
<rect x="650.00" y="248.00" width="5.00" height="3.00" fill="#089981" />
<rect x="658.00" y="234.00" width="1.00" height="20.00" fill="#089981" />
<rect x="656.00" y="239.00" width="5.00" height="3.00" fill="#089981" />
<rect x="664.00" y="229.00" width="1.00" height="26.00" fill="#089981" />
<rect x="662.00" y="235.00" width="5.00" height="17.00" fill="#089981" />
<rect x="671.00" y="230.00" width="1.00" height="19.00" fill="#f23645" />
<rect x="669.00" y="235.00" width="5.00" height="7.00" fill="#f23645" />
<rect x="677.00" y="238.00" width="1.00" height="10.00" fill="#f23645" />
<rect x="675.00" y="241.00" width="5.00" height="2.00" fill="#f23645" />
<rect x="683.00" y="233.00" width="1.00" height="12.00" fill="#089981" />
<rect x="681.00" y="235.00" width="5.00" height="9.00" fill="#089981" />
<rect x="689.00" y="235.00" width="1.00" height="25.00" fill="#f23645" />
<rect x="687.00" y="236.00" width="5.00" height="20.00" fill="#f23645" />
<rect x="695.00" y="243.00" width="1.00" height="64.00" fill="#f23645" />
<rect x="693.00" y="250.00" width="5.00" height="51.00" fill="#f23645" />
<rect x="701.00" y="277.00" width="1.00" height="21.00" fill="#f23645" />
<rect x="699.00" y="279.00" width="5.00" height="10.00" fill="#f23645" />
<rect x="707.00" y="281.00" width="1.00" height="22.00" fill="#089981" />
<rect x="705.00" y="287.00" width="5.00" height="7.00" fill="#089981" />
<rect x="714.00" y="266.00" width="1.00" height="23.00" fill="#f23645" />
<rect x="712.00" y="278.00" width="5.00" height="1.00" fill="#f23645" />
<rect x="720.00" y="280.00" width="1.00" height="21.00" fill="#f23645" />
<rect x="718.00" y="284.00" width="5.00" height="6.00" fill="#f23645" />
<rect x="726.00" y="258.00" width="1.00" height="32.00" fill="#089981" />
<rect x="724.00" y="264.00" width="5.00" height="23.00" fill="#089981" />
<rect x="732.00" y="204.00" width="1.00" height="43.00" fill="#089981" />
<rect x="730.00" y="214.00" width="5.00" height="33.00" fill="#089981" />
<rect x="738.00" y="199.00" width="1.00" height="18.00" fill="#089981" />
<rect x="736.00" y="212.00" width="5.00" height="5.00" fill="#089981" />
<rect x="744.00" y="211.00" width="1.00" height="37.00" fill="#f23645" />
<rect x="742.00" y="212.00" width="5.00" height="22.00" fill="#f23645" />
<rect x="751.00" y="222.00" width="1.00" height="13.00" fill="#f23645" />
<rect x="749.00" y="226.00" width="5.00" height="2.00" fill="#f23645" />
<rect x="757.00" y="205.00" width="1.00" height="24.00" fill="#089981" />
<rect x="755.00" y="211.00" width="5.00" height="9.00" fill="#089981" />
<rect x="763.00" y="181.00" width="1.00" height="22.00" fill="#089981" />
<rect x="761.00" y="183.00" width="5.00" height="19.00" fill="#089981" />
<rect x="769.00" y="177.00" width="1.00" height="9.00" fill="#089981" />
<rect x="767.00" y="182.00" width="5.00" height="2.00" fill="#089981" />
<rect x="775.00" y="170.00" width="1.00" height="21.00" fill="#089981" />
<rect x="773.00" y="178.00" width="5.00" height="3.00" fill="#089981" />
<rect x="781.00" y="157.00" width="1.00" height="27.00" fill="#f23645" />
<rect x="779.00" y="168.00" width="5.00" height="3.00" fill="#f23645" />
<rect x="788.00" y="143.00" width="1.00" height="38.00" fill="#f23645" />
<rect x="786.00" y="144.00" width="5.00" height="32.00" fill="#f23645" />
<rect x="794.00" y="173.00" width="1.00" height="21.00" fill="#f23645" />
<rect x="792.00" y="175.00" width="5.00" height="6.00" fill="#f23645" />
<rect x="800.00" y="170.00" width="1.00" height="18.00" fill="#089981" />
<rect x="798.00" y="177.00" width="5.00" height="9.00" fill="#089981" />
<rect x="806.00" y="169.00" width="1.00" height="23.00" fill="#089981" />
<rect x="804.00" y="176.00" width="5.00" height="11.00" fill="#089981" />
<rect x="812.00" y="161.00" width="1.00" height="27.00" fill="#089981" />
<rect x="810.00" y="178.00" width="5.00" height="10.00" fill="#089981" />
<rect x="818.00" y="166.00" width="1.00" height="26.00" fill="#f23645" />
<rect x="816.00" y="178.00" width="5.00" height="7.00" fill="#f23645" />
<rect x="825.00" y="158.00" width="1.00" height="30.00" fill="#089981" />
<rect x="823.00" y="178.00" width="5.00" height="4.00" fill="#089981" />
<rect x="831.00" y="148.00" width="1.00" height="31.00" fill="#089981" />
<rect x="829.00" y="151.00" width="5.00" height="27.00" fill="#089981" />
<rect x="837.00" y="149.00" width="1.00" height="19.00" fill="#f23645" />
<rect x="835.00" y="152.00" width="5.00" height="7.00" fill="#f23645" />
<rect x="843.00" y="144.00" width="1.00" height="22.00" fill="#f23645" />
<rect x="841.00" y="156.00" width="5.00" height="7.00" fill="#f23645" />
<rect x="849.00" y="148.00" width="1.00" height="30.00" fill="#089981" />
<rect x="847.00" y="164.00" width="5.00" height="8.00" fill="#089981" />
<rect x="855.00" y="173.00" width="1.00" height="23.00" fill="#f23645" />
<rect x="853.00" y="181.00" width="5.00" height="8.00" fill="#f23645" />
<rect x="861.00" y="172.00" width="1.00" height="26.00" fill="#f23645" />
<rect x="859.00" y="176.00" width="5.00" height="13.00" fill="#f23645" />
<rect x="868.00" y="165.00" width="1.00" height="33.00" fill="#089981" />
<rect x="866.00" y="183.00" width="5.00" height="15.00" fill="#089981" />
<rect x="874.00" y="150.00" width="1.00" height="45.00" fill="#f23645" />
<rect x="872.00" y="172.00" width="5.00" height="23.00" fill="#f23645" />
<rect x="880.00" y="160.00" width="1.00" height="36.00" fill="#089981" />
<rect x="878.00" y="169.00" width="5.00" height="27.00" fill="#089981" />
<rect x="886.00" y="143.00" width="1.00" height="29.00" fill="#089981" />
<rect x="884.00" y="148.00" width="5.00" height="24.00" fill="#089981" />
<rect x="892.00" y="127.00" width="1.00" height="25.00" fill="#089981" />
<rect x="890.00" y="143.00" width="5.00" height="9.00" fill="#089981" />
<rect x="898.00" y="131.00" width="1.00" height="14.00" fill="#089981" />
<rect x="896.00" y="140.00" width="5.00" height="4.00" fill="#089981" />
<rect x="905.00" y="133.00" width="1.00" height="15.00" fill="#089981" />
<rect x="903.00" y="134.00" width="5.00" height="9.00" fill="#089981" />
<rect x="911.00" y="114.00" width="1.00" height="33.00" fill="#089981" />
<rect x="909.00" y="115.00" width="5.00" height="24.00" fill="#089981" />
<rect x="917.00" y="96.00" width="1.00" height="21.00" fill="#089981" />
<rect x="915.00" y="101.00" width="5.00" height="15.00" fill="#089981" />
<rect x="923.00" y="89.00" width="1.00" height="25.00" fill="#f23645" />
<rect x="921.00" y="101.00" width="5.00" height="10.00" fill="#f23645" />
<rect x="929.00" y="108.00" width="1.00" height="28.00" fill="#f23645" />
<rect x="927.00" y="111.00" width="5.00" height="16.00" fill="#f23645" />
<rect x="935.00" y="124.00" width="1.00" height="14.00" fill="#f23645" />
<rect x="933.00" y="127.00" width="5.00" height="9.00" fill="#f23645" />
<rect x="942.00" y="131.00" width="1.00" height="16.00" fill="#f23645" />
<rect x="940.00" y="138.00" width="5.00" height="2.00" fill="#f23645" />
<rect x="948.00" y="130.00" width="1.00" height="13.00" fill="#f23645" />
<rect x="946.00" y="138.00" width="5.00" height="5.00" fill="#f23645" />
<rect x="954.00" y="130.00" width="1.00" height="16.00" fill="#089981" />
<rect x="952.00" y="135.00" width="5.00" height="5.00" fill="#089981" />
<rect x="960.00" y="131.00" width="1.00" height="27.00" fill="#f23645" />
<rect x="958.00" y="133.00" width="5.00" height="6.00" fill="#f23645" />
<rect x="966.00" y="133.00" width="1.00" height="11.00" fill="#089981" />
<rect x="964.00" y="137.00" width="5.00" height="3.00" fill="#089981" />
<rect x="972.00" y="128.00" width="1.00" height="34.00" fill="#f23645" />
<rect x="970.00" y="128.00" width="5.00" height="29.00" fill="#f23645" />
<rect x="978.00" y="150.00" width="1.00" height="17.00" fill="#089981" />
<rect x="976.00" y="154.00" width="5.00" height="9.00" fill="#089981" />
<rect x="985.00" y="147.00" width="1.00" height="21.00" fill="#f23645" />
<rect x="983.00" y="152.00" width="5.00" height="16.00" fill="#f23645" />
<rect x="991.00" y="159.00" width="1.00" height="31.00" fill="#f23645" />
<rect x="989.00" y="159.00" width="5.00" height="6.00" fill="#f23645" />
<rect x="997.00" y="154.00" width="1.00" height="22.00" fill="#089981" />
<rect x="995.00" y="158.00" width="5.00" height="9.00" fill="#089981" />
<rect x="1003.00" y="157.00" width="1.00" height="16.00" fill="#f23645" />
<rect x="1001.00" y="162.00" width="5.00" height="10.00" fill="#f23645" />
<rect x="1009.00" y="164.00" width="1.00" height="15.00" fill="#089981" />
<rect x="1007.00" y="165.00" width="5.00" height="8.00" fill="#089981" />
<rect x="1015.00" y="150.00" width="1.00" height="16.00" fill="#089981" />
<rect x="1013.00" y="158.00" width="5.00" height="8.00" fill="#089981" />
<rect x="1022.00" y="150.00" width="1.00" height="12.00" fill="#f23645" />
<rect x="1020.00" y="156.00" width="5.00" height="5.00" fill="#f23645" />
<rect x="1028.00" y="155.00" width="1.00" height="10.00" fill="#089981" />
<rect x="1026.00" y="158.00" width="5.00" height="5.00" fill="#089981" />
<rect x="1034.00" y="156.00" width="1.00" height="9.00" fill="#089981" />
<rect x="1032.00" y="161.00" width="5.00" height="2.00" fill="#089981" />
<rect x="1040.00" y="158.00" width="1.00" height="10.00" fill="#f23645" />
<rect x="1038.00" y="161.00" width="5.00" height="7.00" fill="#f23645" />
<rect x="1046.00" y="139.00" width="1.00" height="41.00" fill="#f23645" />
<rect x="1044.00" y="165.00" width="5.00" height="7.00" fill="#f23645" />
<rect x="1052.00" y="169.00" width="1.00" height="25.00" fill="#f23645" />
<rect x="1050.00" y="173.00" width="5.00" height="17.00" fill="#f23645" />
<rect x="1059.00" y="187.00" width="1.00" height="27.00" fill="#f23645" />
<rect x="1057.00" y="190.00" width="5.00" height="23.00" fill="#f23645" />
<rect x="1065.00" y="206.00" width="1.00" height="18.00" fill="#f23645" />
<rect x="1063.00" y="208.00" width="5.00" height="14.00" fill="#f23645" />
<rect x="1071.00" y="228.00" width="1.00" height="16.00" fill="#089981" />
<rect x="1069.00" y="229.00" width="5.00" height="11.00" fill="#089981" />
<rect x="1077.00" y="223.00" width="1.00" height="20.00" fill="#089981" />
<rect x="1075.00" y="228.00" width="5.00" height="1.00" fill="#089981" />
<rect x="1083.00" y="218.00" width="1.00" height="22.00" fill="#089981" />
<rect x="1081.00" y="223.00" width="5.00" height="6.00" fill="#089981" />
<rect x="1089.00" y="215.00" width="1.00" height="17.00" fill="#089981" />
<rect x="1087.00" y="219.00" width="5.00" height="12.00" fill="#089981" />
<rect x="1096.00" y="215.00" width="1.00" height="25.00" fill="#089981" />
<rect x="1094.00" y="224.00" width="5.00" height="4.00" fill="#089981" />
<rect x="1102.00" y="219.00" width="1.00" height="20.00" fill="#f23645" />
<rect x="1100.00" y="221.00" width="5.00" height="13.00" fill="#f23645" />
<rect x="1108.00" y="229.00" width="1.00" height="20.00" fill="#f23645" />
<rect x="1106.00" y="234.00" width="5.00" height="13.00" fill="#f23645" />
<rect x="1114.00" y="250.00" width="1.00" height="58.00" fill="#f23645" />
<rect x="1112.00" y="260.00" width="5.00" height="32.00" fill="#f23645" />
<rect x="1120.00" y="266.00" width="1.00" height="33.00" fill="#f23645" />
<rect x="1118.00" y="281.00" width="5.00" height="6.00" fill="#f23645" />
<rect x="1126.00" y="269.00" width="1.00" height="15.00" fill="#f23645" />
<rect x="1124.00" y="278.00" width="5.00" height="6.00" fill="#f23645" />
<rect x="1132.00" y="277.00" width="1.00" height="25.00" fill="#089981" />
<rect x="1130.00" y="284.00" width="5.00" height="5.00" fill="#089981" />
<rect x="1139.00" y="241.00" width="1.00" height="34.00" fill="#089981" />
<rect x="1137.00" y="247.00" width="5.00" height="21.00" fill="#089981" />
<rect x="1145.00" y="214.00" width="1.00" height="20.00" fill="#f23645" />
<rect x="1143.00" y="228.00" width="5.00" height="6.00" fill="#f23645" />
<rect x="1151.00" y="230.00" width="1.00" height="21.00" fill="#f23645" />
<rect x="1149.00" y="236.00" width="5.00" height="7.00" fill="#f23645" />
<rect x="1157.00" y="226.00" width="1.00" height="26.00" fill="#089981" />
<rect x="1155.00" y="233.00" width="5.00" height="2.00" fill="#089981" />
<rect x="1163.00" y="215.00" width="1.00" height="48.00" fill="#089981" />
<rect x="1161.00" y="227.00" width="5.00" height="22.00" fill="#089981" />
<rect x="1169.00" y="173.00" width="1.00" height="54.00" fill="#089981" />
<rect x="1167.00" y="176.00" width="5.00" height="49.00" fill="#089981" />
<rect x="1176.00" y="167.00" width="1.00" height="20.00" fill="#089981" />
<rect x="1174.00" y="178.00" width="5.00" height="3.00" fill="#089981" />
<text x="658.5" y="136.7" text-anchor="middle" font-size="16" font-weight="bold" fill="#2962ff">(iii)</text>
<text x="923.8" y="59.8" text-anchor="middle" font-size="16" font-weight="normal" fill="#2962ff">(v)</text>
<text x="812.8" y="347.6" text-anchor="middle" font-size="16" font-weight="normal" fill="#2962ff">(iv)</text>
<text x="1139.8" y="339.7" text-anchor="middle" font-size="16" font-weight="normal" fill="#f23645">(iv)</text>
<text x="49.8" y="416.6" text-anchor="middle" font-size="16" font-weight="bold" fill="#f23645">(i)</text>
<text x="11.3" y="392.9" font-size="16" font-weight="bold" fill="#2962ff">i)</text>
<line x1="10.5" y1="449.0" x2="14.7" y2="449.0" stroke="#2962ff" stroke-width="1.5" />
</g>
<line x1="10.0" y1="178.5" x2="1455.0" y2="178.5" stroke="#089981" stroke-width="1" stroke-dasharray="1 2"/>
<g clip-path="url(#cr)">
<line x1="10.0" y1="712.5" x2="1455.0" y2="712.5" stroke="#e6e8ec" stroke-width="1" />
<line x1="10.0" y1="750.5" x2="1455.0" y2="750.5" stroke="#e6e8ec" stroke-width="1" />
<rect x="10.00" y="675.00" width="1445.00" height="22.20" fill="rgba(76,175,80,0.22)" />
<rect x="10.00" y="707.00" width="1445.00" height="21.90" fill="rgba(255,82,82,0.15)" />
<rect x="10.00" y="732.90" width="1445.00" height="20.10" fill="rgba(76,175,80,0.22)" />
<rect x="10.00" y="760.70" width="1445.00" height="26.90" fill="rgba(255,82,82,0.15)" />
<line x1="10.0" y1="707.5" x2="1455.0" y2="707.5" stroke="#9598a1" stroke-width="1" stroke-dasharray="5 6"/>
<line x1="10.0" y1="759.5" x2="1455.0" y2="759.5" stroke="#9598a1" stroke-width="1" stroke-dasharray="5 6"/>
<path d="M375.2,754.7 Q396.5,788.3 417.8,754.7 Z" fill="rgba(126,87,194,0.25)" stroke="none"/>
<path d="M375.2,754.7 Q396.5,788.3 417.8,754.7" fill="none" stroke="rgba(126,87,194,0.8)" stroke-width="2" stroke-linecap="round"/>
<polyline points="10.6,747.2 25.1,747.2 37.7,745.5 50.3,743.5 65.3,741.0 80.4,739.2 95.5,739.2 110.6,739.7 125.7,739.7 140.7,737.9 155.8,735.4 175.9,734.9 196.0,734.9 216.1,734.9 236.2,735.4 256.3,734.9 271.4,732.4 289.0,729.9 306.6,729.4 326.7,729.1 341.8,726.6 356.9,724.9 372.0,722.9 379.7,722.4 380.8,722.9 392.6,723.6 405.1,724.6 417.7,723.4 430.3,720.3 442.8,717.1 455.4,714.8 468.0,712.8 480.5,711.5 493.1,710.8 505.7,710.3 520.7,710.3 535.8,709.0 555.9,708.5 576.0,708.5 593.6,709.0 606.2,709.0 621.3,707.3 636.3,704.8 648.9,701.5 661.5,700.7 676.6,701.0 689.1,701.5 701.7,703.3 716.8,705.3 731.8,706.0 746.9,706.0 759.5,706.5 775.1,706.0 790.2,706.0 800.2,705.8 810.3,704.0 825.3,702.8 840.4,702.0 855.5,702.8 868.1,704.0 880.6,706.5 895.7,707.0 910.8,707.0 925.9,706.5 940.9,706.5 956.0,705.3 968.6,704.8 978.6,706.0 991.2,707.3 1006.3,709.0 1021.4,711.5 1036.5,714.1 1051.5,717.3 1066.6,721.6 1081.7,726.1 1096.8,729.9 1111.8,733.7 1126.9,737.9 1140.0,740.4 1145.6,741.7 1158.1,744.2 1165.7,745.0 1176.2,745.0" fill="none" stroke="#2962ff" stroke-width="2.2" stroke-linejoin="round" stroke-linecap="round" />
<polyline points="10.6,728.6 20.1,729.6 30.2,732.9 41.5,735.9 50.3,735.4 60.3,734.9 67.9,732.9 75.4,729.9 85.4,727.4 96.8,726.6 105.6,730.4 115.6,734.2 125.7,737.4 135.7,739.2 145.8,739.2 155.8,737.4 165.9,735.9 175.9,735.4 186.0,736.7 196.0,738.7 206.1,740.4 216.1,741.2 227.4,739.9 238.8,737.9 248.8,734.9 258.9,728.4 268.9,720.8 279.0,716.6 289.0,712.8 296.6,709.0 306.6,709.0 316.7,711.5 326.7,714.1 336.8,713.6 346.8,712.8 356.9,711.5 366.9,709.0 374.5,709.0 379.7,710.3 380.8,711.8 387.5,716.6 395.1,722.9 403.9,729.9 412.7,732.2 421.5,730.4 430.3,725.9 439.1,719.1 446.6,710.3 454.1,700.2 460.4,694.0 466.7,691.9 474.2,693.2 480.5,696.5 490.6,699.7 500.6,703.3 510.7,705.3 520.7,707.3 530.8,705.3 540.8,701.5 548.4,699.7 553.4,700.2 560.9,704.0 571.0,707.8 581.1,709.0 591.1,712.3 598.6,714.8 606.2,712.8 616.2,706.5 626.3,700.2 636.3,696.5 646.4,694.5 656.5,692.7 666.5,694.0 676.6,694.7 684.1,695.7 691.6,700.2 701.7,706.5 711.7,712.8 721.8,717.8 731.8,719.6 743.2,720.3 752.0,716.6 759.5,713.1 770.1,706.5 780.1,700.7 790.2,699.7 800.2,697.7 810.3,696.5 820.3,697.7 830.4,698.5 840.4,699.0 850.5,700.2 860.5,704.5 870.6,708.3 880.6,710.8 890.7,712.0 900.7,711.5 905.8,710.8 915.8,704.0 925.9,699.0 933.4,698.2 940.9,699.7 951.0,702.8 961.1,706.5 968.6,710.8 976.1,716.6 986.2,722.9 996.2,726.6 1006.3,730.4 1016.3,733.7 1023.9,734.9 1033.9,734.9 1044.0,735.4 1051.5,737.9 1061.6,743.0 1071.6,750.5 1081.7,758.0 1091.7,764.3 1101.8,768.6 1111.8,773.1 1121.9,775.1 1132.0,776.1 1140.0,774.4 1145.6,771.9 1153.1,768.1 1159.4,763.6 1164.4,759.3 1169.4,751.8 1176.2,742.5" fill="none" stroke="#f7525f" stroke-width="2" stroke-linejoin="round" stroke-linecap="round" />
<polyline points="10.6,729.1 17.6,742.5 23.9,743.5 30.2,746.7 41.5,742.2 49.0,720.8 55.3,718.3 67.9,720.8 72.9,721.6 79.2,726.6 85.4,731.1 91.7,739.9 98.0,741.7 104.3,751.3 110.6,740.4 116.9,740.4 123.1,741.0 129.4,738.4 135.7,735.9 142.0,732.4 148.3,733.7 153.3,739.2 158.8,729.9 165.1,735.9 171.4,733.4 177.7,742.5 184.0,741.7 190.2,748.0 196.0,741.7 202.3,748.0 209.1,744.7 214.9,731.1 221.2,729.9 227.4,733.4 233.7,729.6 240.0,730.9 246.3,730.9 252.6,717.8 258.9,709.8 263.9,700.7 270.2,698.5 276.5,712.0 282.7,712.0 289.0,709.0 295.3,706.0 300.3,712.0 307.1,721.6 312.9,719.6 319.2,716.6 326.2,717.1 331.7,713.3 338.0,709.0 344.3,703.3 350.6,704.5 356.4,707.0 362.7,706.5 368.9,706.0 374.5,721.6 379.7,731.7 380.8,731.7 387.0,740.4 393.3,757.5 399.6,753.0 405.9,754.5 412.2,715.3 418.2,700.2 424.0,686.9 430.3,693.2 436.5,690.2 442.8,685.2 449.1,687.2 455.4,691.9 461.7,694.7 467.5,696.0 473.7,712.3 480.0,715.3 486.1,709.0 491.8,710.8 498.1,706.0 504.4,703.3 510.2,699.5 516.5,701.0 522.7,710.8 529.0,693.5 535.3,691.9 540.8,691.9 547.1,699.7 553.4,711.5 559.7,734.7 566.0,725.4 572.3,716.6 578.5,711.5 584.8,709.0 590.6,707.8 596.9,710.8 603.2,696.5 609.2,684.4 615.5,690.2 621.3,695.2 627.0,690.2 633.3,694.0 639.6,697.2 645.9,697.2 652.2,695.7 658.5,693.2 664.0,691.9 670.3,697.0 676.6,697.7 682.8,695.2 689.1,710.3 694.9,735.9 701.2,729.9 707.5,729.6 713.8,725.9 720.0,730.9 726.3,715.3 731.8,700.2 738.1,699.7 744.4,712.0 750.7,709.8 757.0,703.3 760.0,700.2 763.0,695.2 768.8,694.7 774.6,694.0 780.9,691.4 787.1,695.2 793.9,700.2 800.2,698.5 806.5,698.2 812.3,700.2 818.3,705.3 824.8,702.8 831.1,690.7 837.4,698.2 843.4,700.2 849.2,702.8 855.0,722.4 861.3,721.6 867.6,718.6 873.8,727.9 880.1,712.8 885.7,702.8 891.9,700.7 898.2,699.5 904.5,697.0 910.8,690.2 917.1,683.9 923.4,695.2 928.9,707.8 935.2,713.6 941.5,716.1 947.7,719.1 954.0,714.6 960.3,717.3 966.1,717.1 972.4,732.2 978.6,730.4 984.9,739.9 991.2,738.7 997.0,732.9 1003.0,742.2 1009.3,736.7 1015.1,730.9 1021.4,732.2 1027.7,730.9 1033.9,734.2 1040.2,739.2 1046.0,742.5 1052.3,755.5 1059.1,768.1 1065.4,772.6 1071.6,775.1 1077.2,773.1 1083.4,768.1 1089.2,763.6 1095.5,766.8 1101.8,771.1 1108.1,776.9 1114.4,790.7 1120.6,785.7 1126.4,782.4 1132.5,782.4 1138.7,748.0 1144.8,739.2 1151.1,743.7 1156.9,737.9 1163.1,734.2 1168.9,707.8 1176.2,709.5" fill="none" stroke="#8e24aa" stroke-width="2" stroke-linejoin="round" stroke-linecap="round" stroke-linejoin="miter"/>
<line x1="263.4" y1="689.9" x2="375.2" y2="701.0" stroke="rgba(41,98,255,0.8)" stroke-width="2" />
<line x1="442.3" y1="679.4" x2="541.6" y2="685.2" stroke="rgba(41,98,255,0.8)" stroke-width="2" />
<line x1="836.2" y1="681.9" x2="892.7" y2="690.9" stroke="#2962ff" stroke-width="2" />
</g>
<g clip-path="url(#cd)">
<line x1="10.0" y1="860.5" x2="1455.0" y2="860.5" stroke="#a0a3ab" stroke-width="1" stroke-dasharray="5 6"/>
<rect x="10.00" y="845.73" width="5.00" height="14.77" fill="#b2dfdb" />
<rect x="16.00" y="851.64" width="5.00" height="8.86" fill="#b2dfdb" />
<rect x="22.00" y="855.58" width="5.00" height="4.92" fill="#b2dfdb" />
<rect x="28.00" y="858.92" width="5.00" height="1.58" fill="#b2dfdb" />
<rect x="34.00" y="860.50" width="5.00" height="1.18" fill="#ff5252" />
<rect x="40.00" y="860.50" width="5.00" height="1.18" fill="#ff5252" />
<rect x="46.00" y="855.77" width="6.00" height="4.73" fill="#26a69a" />
<rect x="53.00" y="852.62" width="5.00" height="7.88" fill="#26a69a" />
<rect x="59.00" y="850.65" width="5.00" height="9.85" fill="#26a69a" />
<rect x="65.00" y="849.67" width="5.00" height="10.83" fill="#26a69a" />
<rect x="71.00" y="850.65" width="5.00" height="9.85" fill="#b2dfdb" />
<rect x="77.00" y="851.64" width="5.00" height="8.86" fill="#b2dfdb" />
<rect x="83.00" y="853.61" width="5.00" height="6.89" fill="#b2dfdb" />
<rect x="89.00" y="858.53" width="6.00" height="1.97" fill="#b2dfdb" />
<rect x="96.00" y="860.50" width="5.00" height="0.59" fill="#ffcdd2" />
<rect x="102.00" y="860.50" width="5.00" height="3.94" fill="#ff5252" />
<rect x="108.00" y="860.50" width="5.00" height="3.94" fill="#ff5252" />
<rect x="114.00" y="860.50" width="5.00" height="2.95" fill="#ffcdd2" />
<rect x="120.00" y="860.50" width="5.00" height="3.94" fill="#ffcdd2" />
<rect x="126.00" y="860.50" width="6.00" height="2.95" fill="#ffcdd2" />
<rect x="133.00" y="860.50" width="5.00" height="1.97" fill="#ffcdd2" />
<rect x="139.00" y="860.50" width="5.00" height="0.98" fill="#ffcdd2" />
<rect x="145.00" y="860.50" width="5.00" height="0.39" fill="#ffcdd2" />
<rect x="151.00" y="860.50" width="5.00" height="0.59" fill="#ff5252" />
<rect x="157.00" y="858.92" width="5.00" height="1.58" fill="#26a69a" />
<rect x="163.00" y="859.52" width="6.00" height="0.98" fill="#b2dfdb" />
<rect x="170.00" y="858.92" width="5.00" height="1.58" fill="#26a69a" />
<rect x="176.00" y="860.50" width="5.00" height="0.59" fill="#ff5252" />
<rect x="182.00" y="860.50" width="5.00" height="1.38" fill="#ff5252" />
<rect x="188.00" y="860.50" width="5.00" height="2.36" fill="#ff5252" />
<rect x="194.00" y="860.50" width="5.00" height="1.97" fill="#ffcdd2" />
<rect x="200.00" y="860.50" width="5.00" height="3.35" fill="#ff5252" />
<rect x="206.00" y="860.50" width="6.00" height="2.95" fill="#ffcdd2" />
<rect x="213.00" y="860.50" width="5.00" height="0.98" fill="#ffcdd2" />
<rect x="219.00" y="858.92" width="5.00" height="1.58" fill="#26a69a" />
<rect x="225.00" y="858.92" width="5.00" height="1.58" fill="#26a69a" />
<rect x="231.00" y="857.94" width="5.00" height="2.56" fill="#26a69a" />
<rect x="237.00" y="856.95" width="5.00" height="3.55" fill="#26a69a" />
<rect x="243.00" y="856.95" width="6.00" height="3.55" fill="#26a69a" />
<rect x="250.00" y="855.97" width="5.00" height="4.53" fill="#26a69a" />
<rect x="256.00" y="854.00" width="5.00" height="6.50" fill="#26a69a" />
<rect x="262.00" y="851.05" width="5.00" height="9.45" fill="#26a69a" />
<rect x="268.00" y="849.67" width="5.00" height="10.83" fill="#26a69a" />
<rect x="274.00" y="850.06" width="5.00" height="10.44" fill="#b2dfdb" />
<rect x="280.00" y="851.64" width="6.00" height="8.86" fill="#b2dfdb" />
<rect x="287.00" y="852.62" width="5.00" height="7.88" fill="#b2dfdb" />
<rect x="293.00" y="853.02" width="5.00" height="7.48" fill="#b2dfdb" />
<rect x="299.00" y="854.00" width="5.00" height="6.50" fill="#b2dfdb" />
<rect x="305.00" y="855.97" width="5.00" height="4.53" fill="#b2dfdb" />
<rect x="311.00" y="856.95" width="5.00" height="3.55" fill="#b2dfdb" />
<rect x="317.00" y="858.14" width="5.00" height="2.36" fill="#b2dfdb" />
<rect x="323.00" y="858.92" width="6.00" height="1.58" fill="#b2dfdb" />
<rect x="330.00" y="859.12" width="5.00" height="1.38" fill="#b2dfdb" />
<rect x="336.00" y="858.92" width="5.00" height="1.58" fill="#26a69a" />
<rect x="342.00" y="857.94" width="5.00" height="2.56" fill="#26a69a" />
<rect x="348.00" y="857.94" width="5.00" height="2.56" fill="#26a69a" />
<rect x="354.00" y="857.94" width="5.00" height="2.56" fill="#b2dfdb" />
<rect x="360.00" y="858.92" width="6.00" height="1.58" fill="#b2dfdb" />
<rect x="367.00" y="858.92" width="5.00" height="1.58" fill="#b2dfdb" />
<rect x="373.00" y="860.50" width="5.00" height="1.18" fill="#ff5252" />
<rect x="379.00" y="860.50" width="5.00" height="2.36" fill="#ff5252" />
<rect x="385.00" y="860.50" width="5.00" height="4.33" fill="#ff5252" />
<rect x="391.00" y="860.50" width="5.00" height="7.48" fill="#ff5252" />
<rect x="397.00" y="860.50" width="5.00" height="8.27" fill="#ff5252" />
<rect x="403.00" y="860.50" width="6.00" height="9.26" fill="#ff5252" />
<rect x="410.00" y="860.50" width="5.00" height="5.32" fill="#ffcdd2" />
<rect x="416.00" y="859.91" width="5.00" height="0.80" fill="#26a69a" />
<rect x="422.00" y="853.02" width="5.00" height="7.48" fill="#26a69a" />
<rect x="428.00" y="849.67" width="5.00" height="10.83" fill="#26a69a" />
<rect x="434.00" y="846.71" width="5.00" height="13.79" fill="#26a69a" />
<rect x="440.00" y="844.74" width="6.00" height="15.76" fill="#26a69a" />
<rect x="447.00" y="844.74" width="5.00" height="15.76" fill="#26a69a" />
<rect x="453.00" y="845.73" width="5.00" height="14.77" fill="#b2dfdb" />
<rect x="459.00" y="847.70" width="5.00" height="12.80" fill="#b2dfdb" />
<rect x="465.00" y="850.65" width="5.00" height="9.85" fill="#b2dfdb" />
<rect x="471.00" y="854.98" width="5.00" height="5.52" fill="#b2dfdb" />
<rect x="477.00" y="857.94" width="6.00" height="2.56" fill="#b2dfdb" />
<rect x="484.00" y="859.12" width="5.00" height="1.38" fill="#b2dfdb" />
<rect x="490.00" y="860.50" width="5.00" height="1.38" fill="#ff5252" />
<rect x="496.00" y="860.50" width="5.00" height="1.38" fill="#ff5252" />
<rect x="502.00" y="860.50" width="5.00" height="0.98" fill="#ffcdd2" />
<rect x="508.00" y="860.50" width="5.00" height="0.98" fill="#ffcdd2" />
<rect x="514.00" y="860.50" width="6.00" height="1.38" fill="#ff5252" />
<rect x="521.00" y="860.50" width="5.00" height="2.36" fill="#ff5252" />
<rect x="527.00" y="858.92" width="5.00" height="1.58" fill="#26a69a" />
<rect x="533.00" y="857.94" width="5.00" height="2.56" fill="#26a69a" />
<rect x="539.00" y="856.95" width="5.00" height="3.55" fill="#26a69a" />
<rect x="545.00" y="857.94" width="5.00" height="2.56" fill="#b2dfdb" />
<rect x="551.00" y="860.11" width="5.00" height="0.80" fill="#b2dfdb" />
<rect x="557.00" y="860.50" width="6.00" height="4.33" fill="#ff5252" />
<rect x="564.00" y="860.50" width="5.00" height="6.50" fill="#ff5252" />
<rect x="570.00" y="860.50" width="5.00" height="5.91" fill="#ffcdd2" />
<rect x="576.00" y="860.50" width="5.00" height="4.33" fill="#ffcdd2" />
<rect x="582.00" y="860.50" width="5.00" height="2.95" fill="#ffcdd2" />
<rect x="588.00" y="860.50" width="5.00" height="1.97" fill="#ffcdd2" />
<rect x="594.00" y="860.50" width="6.00" height="0.98" fill="#ffcdd2" />
<rect x="601.00" y="858.92" width="5.00" height="1.58" fill="#26a69a" />
<rect x="607.00" y="853.02" width="5.00" height="7.48" fill="#26a69a" />
<rect x="613.00" y="851.05" width="5.00" height="9.45" fill="#26a69a" />
<rect x="619.00" y="851.05" width="5.00" height="9.45" fill="#b2dfdb" />
<rect x="625.00" y="850.06" width="5.00" height="10.44" fill="#26a69a" />
<rect x="631.00" y="851.05" width="6.00" height="9.45" fill="#b2dfdb" />
<rect x="638.00" y="853.02" width="5.00" height="7.48" fill="#b2dfdb" />
<rect x="644.00" y="854.00" width="5.00" height="6.50" fill="#b2dfdb" />
<rect x="650.00" y="855.97" width="5.00" height="4.53" fill="#b2dfdb" />
<rect x="656.00" y="856.95" width="5.00" height="3.55" fill="#b2dfdb" />
<rect x="662.00" y="856.95" width="5.00" height="3.55" fill="#b2dfdb" />
<rect x="668.00" y="858.92" width="6.00" height="1.58" fill="#b2dfdb" />
<rect x="675.00" y="860.50" width="5.00" height="0.59" fill="#ff5252" />
<rect x="681.00" y="860.50" width="5.00" height="1.38" fill="#ff5252" />
<rect x="687.00" y="860.50" width="5.00" height="3.35" fill="#ff5252" />
<rect x="693.00" y="860.50" width="5.00" height="8.27" fill="#ff5252" />
<rect x="699.00" y="860.50" width="5.00" height="10.24" fill="#ff5252" />
<rect x="705.00" y="860.50" width="5.00" height="12.21" fill="#ff5252" />
<rect x="711.00" y="860.50" width="6.00" height="11.23" fill="#ffcdd2" />
<rect x="718.00" y="860.50" width="5.00" height="12.21" fill="#ff5252" />
<rect x="724.00" y="860.50" width="5.00" height="10.24" fill="#ffcdd2" />
<rect x="730.00" y="860.50" width="5.00" height="4.33" fill="#ffcdd2" />
<rect x="736.00" y="860.50" width="5.00" height="0.98" fill="#ffcdd2" />
<rect x="742.00" y="860.50" width="5.00" height="0.39" fill="#ffcdd2" />
<rect x="748.00" y="859.91" width="6.00" height="0.80" fill="#26a69a" />
<rect x="755.00" y="857.94" width="5.00" height="2.56" fill="#26a69a" />
<rect x="761.00" y="855.97" width="5.00" height="4.53" fill="#26a69a" />
<rect x="767.00" y="854.00" width="5.00" height="6.50" fill="#26a69a" />
<rect x="773.00" y="854.00" width="5.00" height="6.50" fill="#26a69a" />
<rect x="779.00" y="853.02" width="5.00" height="7.48" fill="#26a69a" />
<rect x="785.00" y="854.00" width="6.00" height="6.50" fill="#b2dfdb" />
<rect x="792.00" y="855.97" width="5.00" height="4.53" fill="#b2dfdb" />
<rect x="798.00" y="856.95" width="5.00" height="3.55" fill="#b2dfdb" />
<rect x="804.00" y="857.94" width="5.00" height="2.56" fill="#b2dfdb" />
<rect x="810.00" y="859.12" width="5.00" height="1.38" fill="#b2dfdb" />
<rect x="816.00" y="860.50" width="5.00" height="1.38" fill="#ff5252" />
<rect x="822.00" y="860.50" width="6.00" height="2.36" fill="#ff5252" />
<rect x="829.00" y="860.50" width="5.00" height="0.59" fill="#ffcdd2" />
<rect x="835.00" y="860.50" width="5.00" height="0.59" fill="#ff5252" />
<rect x="841.00" y="860.50" width="5.00" height="1.38" fill="#ff5252" />
<rect x="847.00" y="860.50" width="5.00" height="2.36" fill="#ff5252" />
<rect x="853.00" y="860.50" width="5.00" height="4.33" fill="#ff5252" />
<rect x="859.00" y="860.50" width="5.00" height="6.30" fill="#ff5252" />
<rect x="865.00" y="860.50" width="6.00" height="7.29" fill="#ff5252" />
<rect x="872.00" y="860.50" width="5.00" height="8.41" fill="#ff5252" />
<rect x="878.00" y="860.50" width="5.00" height="6.30" fill="#ffcdd2" />
<rect x="884.00" y="860.50" width="5.00" height="4.20" fill="#ffcdd2" />
<rect x="890.00" y="860.50" width="5.00" height="2.10" fill="#ffcdd2" />
<rect x="896.00" y="860.50" width="5.00" height="0.63" fill="#ffcdd2" />
<rect x="902.00" y="858.82" width="6.00" height="1.68" fill="#26a69a" />
<rect x="909.00" y="856.93" width="5.00" height="3.57" fill="#26a69a" />
<rect x="915.00" y="854.83" width="5.00" height="5.67" fill="#26a69a" />
<rect x="921.00" y="854.83" width="5.00" height="5.67" fill="#26a69a" />
<rect x="927.00" y="857.35" width="5.00" height="3.15" fill="#b2dfdb" />
<rect x="933.00" y="859.45" width="5.00" height="1.05" fill="#b2dfdb" />
<rect x="939.00" y="860.50" width="6.00" height="1.47" fill="#ff5252" />
<rect x="946.00" y="860.50" width="5.00" height="3.15" fill="#ff5252" />
<rect x="952.00" y="860.50" width="5.00" height="3.15" fill="#ff5252" />
<rect x="958.00" y="860.50" width="5.00" height="4.20" fill="#ff5252" />
<rect x="964.00" y="860.50" width="5.00" height="5.25" fill="#ff5252" />
<rect x="970.00" y="860.50" width="5.00" height="6.30" fill="#ff5252" />
<rect x="976.00" y="860.50" width="5.00" height="7.35" fill="#ff5252" />
<rect x="982.00" y="860.50" width="6.00" height="9.46" fill="#ff5252" />
<rect x="989.00" y="860.50" width="5.00" height="9.46" fill="#ff5252" />
<rect x="995.00" y="860.50" width="5.00" height="9.46" fill="#ffcdd2" />
<rect x="1001.00" y="860.50" width="5.00" height="9.46" fill="#ff5252" />
<rect x="1007.00" y="860.50" width="5.00" height="8.41" fill="#ffcdd2" />
<rect x="1013.00" y="860.50" width="5.00" height="7.35" fill="#ffcdd2" />
<rect x="1019.00" y="860.50" width="6.00" height="6.30" fill="#ffcdd2" />
<rect x="1026.00" y="860.50" width="5.00" height="5.25" fill="#ffcdd2" />
<rect x="1032.00" y="860.50" width="5.00" height="4.20" fill="#ffcdd2" />
<rect x="1038.00" y="860.50" width="5.00" height="4.20" fill="#ffcdd2" />
<rect x="1044.00" y="860.50" width="5.00" height="4.20" fill="#ff5252" />
<rect x="1050.00" y="860.50" width="5.00" height="6.30" fill="#ff5252" />
<rect x="1056.00" y="860.50" width="6.00" height="8.41" fill="#ff5252" />
<rect x="1063.00" y="860.50" width="5.00" height="10.09" fill="#ff5252" />
<rect x="1069.00" y="860.50" width="5.00" height="11.14" fill="#ff5252" />
<rect x="1075.00" y="860.50" width="5.00" height="11.14" fill="#ffcdd2" />
<rect x="1081.00" y="860.50" width="5.00" height="10.51" fill="#ffcdd2" />
<rect x="1087.00" y="860.50" width="5.00" height="8.41" fill="#ffcdd2" />
<rect x="1093.00" y="860.50" width="6.00" height="7.35" fill="#ffcdd2" />
<rect x="1100.00" y="860.50" width="5.00" height="7.35" fill="#ffcdd2" />
<rect x="1106.00" y="860.50" width="5.00" height="7.35" fill="#ff5252" />
<rect x="1112.00" y="860.50" width="5.00" height="10.09" fill="#ff5252" />
<rect x="1118.00" y="860.50" width="5.00" height="11.14" fill="#ff5252" />
<rect x="1124.00" y="860.50" width="5.00" height="10.09" fill="#ffcdd2" />
<rect x="1130.00" y="860.50" width="5.00" height="9.04" fill="#ffcdd2" />
<rect x="1136.00" y="860.50" width="6.00" height="5.25" fill="#ffcdd2" />
<rect x="1143.00" y="860.50" width="5.00" height="1.05" fill="#ffcdd2" />
<rect x="1149.00" y="857.98" width="5.00" height="2.52" fill="#26a69a" />
<rect x="1155.00" y="855.88" width="5.00" height="4.62" fill="#26a69a" />
<rect x="1161.00" y="853.78" width="5.00" height="6.72" fill="#26a69a" />
<rect x="1167.00" y="848.94" width="5.00" height="11.56" fill="#26a69a" />
<rect x="1173.00" y="846.21" width="6.00" height="14.29" fill="#26a69a" />
<polyline points="10.8,878.3 19.7,875.6 31.5,874.4 41.4,875.0 51.2,873.4 63.0,869.1 74.8,864.8 84.7,862.2 92.6,861.2 100.5,861.6 110.3,863.2 122.1,865.5 133.9,866.7 145.8,867.5 157.6,867.1 171.4,866.5 183.2,867.1 195.0,868.1 206.8,869.1 216.7,869.1 226.5,868.5 236.4,867.7 246.2,866.5 256.1,864.2 265.9,860.2 275.8,856.7 285.6,853.3 289.9,852.2 299.8,850.4 309.7,848.4 321.5,847.4 333.3,846.8 345.2,845.8 357.0,845.5 368.8,845.1 376.7,845.5 386.5,847.4 396.4,850.4 406.2,853.3 414.1,854.3 423.9,852.3 435.8,847.4 447.6,840.5 459.4,834.6 471.2,829.7 483.0,828.7 494.8,829.1 506.7,829.7 518.5,830.1 526.4,830.1 538.2,828.7 550.0,828.1 557.9,829.3 565.8,831.3 575.6,833.6 579.9,834.0 589.8,834.6 599.7,834.6 609.5,831.7 619.4,827.7 631.2,823.8 643.0,820.2 654.8,818.3 666.7,817.3 678.5,817.3 688.3,818.5 698.2,822.4 708.0,826.7 717.9,831.3 725.8,834.2 733.6,835.6 743.5,835.6 753.3,835.6 763.2,833.6 773.0,831.3 784.8,828.1 796.7,825.8 808.5,824.8 820.3,825.2 832.1,825.8 842.0,826.3 851.8,826.7 861.7,828.7 869.5,831.1 878.4,833.5 888.9,835.6 899.4,835.6 912.0,834.2 924.6,831.6 935.1,830.6 945.6,831.6 958.3,833.7 968.8,836.3 979.3,839.4 991.9,843.6 1002.4,847.4 1012.9,850.6 1025.5,853.1 1038.1,855.8 1048.6,858.3 1057.0,860.4 1065.4,864.2 1075.9,868.8 1086.4,873.0 1096.9,875.8 1107.4,879.3 1118.0,884.0 1128.5,887.7 1139.0,889.8 1147.4,889.8 1155.8,888.8 1164.2,886.7 1170.5,883.5 1175.7,881.0" fill="none" stroke="#ff6d00" stroke-width="1.2" stroke-linejoin="round" stroke-linecap="round" />
<polyline points="10.8,863.8 19.7,868.1 31.5,874.0 41.4,876.0 49.2,869.1 59.1,860.2 67.0,856.9 73.9,855.3 80.8,855.3 86.7,856.9 92.6,859.2 98.5,862.2 104.4,866.1 112.3,867.7 122.1,869.1 133.9,869.1 145.8,867.1 157.6,866.1 171.4,865.5 181.2,867.1 191.1,869.1 202.9,871.1 209.8,871.5 216.7,869.1 226.5,867.1 236.4,865.2 246.2,863.6 254.1,860.2 262.0,854.3 269.8,848.8 277.7,847.0 285.6,845.8 289.9,844.9 299.8,843.5 309.7,845.5 321.5,846.4 333.3,846.4 345.2,844.5 357.0,843.9 368.8,844.5 376.7,846.4 386.5,851.4 394.4,856.3 402.3,860.2 406.2,861.6 412.1,859.2 418.0,853.3 425.9,844.5 435.8,834.6 445.6,826.7 453.5,823.4 461.4,821.8 467.3,821.8 475.1,824.8 483.0,827.7 492.9,830.1 502.7,830.7 512.6,830.3 518.5,831.3 523.0,832.3 528.3,829.7 536.2,826.7 544.1,825.4 550.0,826.7 555.9,829.7 561.8,834.6 567.7,837.6 573.6,838.0 579.9,837.4 589.8,836.2 597.7,836.2 603.6,831.7 609.5,825.4 615.5,821.4 621.4,818.9 627.3,815.5 635.2,813.9 645.0,813.9 654.8,814.5 664.7,814.5 672.6,815.9 680.5,817.5 688.3,821.4 694.2,827.7 700.1,832.7 708.0,837.2 715.9,841.5 719.8,843.5 725.8,843.9 731.7,840.1 737.6,836.2 747.4,835.6 755.3,834.0 763.2,829.7 771.1,826.2 780.9,822.4 788.8,821.4 796.7,822.4 806.5,823.4 814.4,825.4 824.2,827.7 834.1,826.2 845.9,827.3 853.8,831.7 861.7,835.6 869.5,838.6 876.3,840.5 882.6,839.8 891.0,837.3 903.6,834.8 912.0,830.0 918.3,826.8 924.6,826.4 930.9,827.9 939.3,832.1 947.7,835.6 956.2,837.7 964.6,839.4 973.0,843.6 981.4,847.8 989.8,852.0 998.2,854.1 1006.6,857.3 1017.1,858.3 1027.6,859.0 1038.1,860.0 1046.5,861.5 1052.8,864.6 1059.1,868.8 1067.5,875.1 1075.9,879.3 1084.3,881.4 1094.8,882.5 1105.3,884.6 1113.7,890.9 1122.2,895.1 1130.6,897.2 1136.9,896.2 1143.2,891.9 1151.6,887.3 1162.1,881.4 1168.4,873.0 1175.7,866.7" fill="none" stroke="#2962ff" stroke-width="1.2" stroke-linejoin="round" stroke-linecap="round" />
</g>
<text x="1464.3" y="45.1" font-size="12" fill="#131722" textLength="35.2" lengthAdjust="spacingAndGlyphs">300.00</text>
<text x="1464.3" y="88.6" font-size="12" fill="#131722" textLength="35.2" lengthAdjust="spacingAndGlyphs">290.00</text>
<text x="1464.3" y="133.5" font-size="12" fill="#131722" textLength="35.2" lengthAdjust="spacingAndGlyphs">280.00</text>
<text x="1464.3" y="228.4" font-size="12" fill="#131722" textLength="35.2" lengthAdjust="spacingAndGlyphs">260.00</text>
<text x="1464.3" y="268.5" font-size="12" fill="#131722" textLength="35.2" lengthAdjust="spacingAndGlyphs">252.00</text>
<text x="1464.3" y="309.8" font-size="12" fill="#131722" textLength="35.2" lengthAdjust="spacingAndGlyphs">244.00</text>
<text x="1464.3" y="352.5" font-size="12" fill="#131722" textLength="35.2" lengthAdjust="spacingAndGlyphs">236.00</text>
<text x="1464.3" y="393.9" font-size="12" fill="#131722" textLength="35.2" lengthAdjust="spacingAndGlyphs">228.50</text>
<text x="1464.3" y="436.6" font-size="12" fill="#131722" textLength="35.2" lengthAdjust="spacingAndGlyphs">221.00</text>
<text x="1464.3" y="471.9" font-size="12" fill="#131722" textLength="35.2" lengthAdjust="spacingAndGlyphs">215.00</text>
<text x="1464.3" y="508.1" font-size="12" fill="#131722" textLength="35.2" lengthAdjust="spacingAndGlyphs">209.00</text>
<text x="1464.3" y="545.4" font-size="12" fill="#131722" textLength="35.2" lengthAdjust="spacingAndGlyphs">203.00</text>
<text x="1464.3" y="577.4" font-size="12" fill="#131722" textLength="35.2" lengthAdjust="spacingAndGlyphs">198.00</text>
<text x="1464.3" y="610.1" font-size="12" fill="#131722" textLength="35.2" lengthAdjust="spacingAndGlyphs">193.00</text>
<text x="1464.3" y="640.4" font-size="12" fill="#131722" textLength="35.2" lengthAdjust="spacingAndGlyphs">188.50</text>
<text x="1464.3" y="680.3" font-size="12" fill="#131722" textLength="28.8" lengthAdjust="spacingAndGlyphs">80.00</text>
<text x="1464.3" y="791.3" font-size="12" fill="#131722" textLength="28.8" lengthAdjust="spacingAndGlyphs">20.00</text>
<text x="1464.3" y="833.9" font-size="12" fill="#131722" textLength="22.4" lengthAdjust="spacingAndGlyphs">5.00</text>
<text x="1464.3" y="863.0" font-size="12" fill="#131722" textLength="35.2" lengthAdjust="spacingAndGlyphs">0.0000</text>
<text x="1464.3" y="895.3" font-size="12" fill="#131722" textLength="29.4" lengthAdjust="spacingAndGlyphs">−5.00</text>
<rect x="1456" y="170.3" width="49" height="33.099999999999994" rx="1.5" fill="#089981"/>
<text x="1464.3" y="183.3" font-size="12" font-weight="bold" fill="#fff" textLength="35.2" lengthAdjust="spacingAndGlyphs">269.48</text>
<text x="1464.3" y="199.7" font-size="12" font-weight="bold" fill="#fff" textLength="35.2" lengthAdjust="spacingAndGlyphs">268.37</text>
<rect x="1456" y="227.3" width="49" height="16.599999999999994" rx="1.5" fill="#2962ff"/>
<text x="1464.3" y="239.9" font-size="12" font-weight="bold" fill="#fff" textLength="35.2" lengthAdjust="spacingAndGlyphs">257.71</text>
<rect x="1456" y="243.9" width="49" height="16.799999999999983" rx="1.5" fill="#f23645"/>
<text x="1464.3" y="256.7" font-size="12" font-weight="bold" fill="#fff" textLength="35.2" lengthAdjust="spacingAndGlyphs">257.14</text>
<rect x="1456" y="334.4" width="49" height="16.80000000000001" rx="1.5" fill="#f57c00"/>
<text x="1464.3" y="347.2" font-size="12" font-weight="bold" fill="#fff" textLength="35.2" lengthAdjust="spacingAndGlyphs">237.10</text>
<rect x="1456" y="589.5" width="53" height="16.700000000000045" rx="1.5" fill="#26a69a"/>
<text x="1464.3" y="602.3" font-size="12" font-weight="bold" fill="#fff" textLength="41" lengthAdjust="spacingAndGlyphs">64.39 M</text>
<rect x="1456" y="702.7" width="42.5" height="16.59999999999991" rx="1.5" fill="#9c27b0"/>
<text x="1464.3" y="715.3" font-size="12" font-weight="bold" fill="#fff" textLength="28.5" lengthAdjust="spacingAndGlyphs">61.55</text>
<rect x="1456" y="719.3" width="42.5" height="17.40000000000009" rx="1.5" fill="#ff5252"/>
<text x="1464.3" y="732.3" font-size="12" font-weight="bold" fill="#fff" textLength="28.5" lengthAdjust="spacingAndGlyphs">43.62</text>
<rect x="1456" y="736.7" width="42.5" height="16.59999999999991" rx="1.5" fill="#2962ff"/>
<text x="1464.3" y="749.3" font-size="12" font-weight="bold" fill="#fff" textLength="28.5" lengthAdjust="spacingAndGlyphs">42.28</text>
<rect x="1456" y="838.3" width="37" height="16.300000000000068" rx="1.5" fill="#26a69a"/>
<text x="1464.3" y="850.8" font-size="12" font-weight="bold" fill="#fff" textLength="22" lengthAdjust="spacingAndGlyphs">2.29</text>
<rect x="1456" y="859.8" width="42.5" height="16.200000000000045" rx="1.5" fill="#2962ff"/>
<text x="1463.5" y="872.3" font-size="12" font-weight="bold" fill="#fff" textLength="29.5" lengthAdjust="spacingAndGlyphs">−1.16</text>
<rect x="1456" y="876" width="42.5" height="16" rx="1.5" fill="#ff6d00"/>
<text x="1463.5" y="888.3" font-size="12" font-weight="bold" fill="#fff" textLength="29.5" lengthAdjust="spacingAndGlyphs">−3.45</text>
<text transform="translate(135.5,925) scale(0.91,1)" x="0" y="0" text-anchor="middle" font-size="12" font-weight="normal" fill="#131722">Jun</text>
<text transform="translate(258.5,925) scale(0.91,1)" x="0" y="0" text-anchor="middle" font-size="12" font-weight="normal" fill="#131722">Jul</text>
<text transform="translate(393.5,925) scale(0.91,1)" x="0" y="0" text-anchor="middle" font-size="12" font-weight="normal" fill="#131722">Aug</text>
<text transform="translate(523.5,925) scale(0.91,1)" x="0" y="0" text-anchor="middle" font-size="12" font-weight="normal" fill="#131722">Sep</text>
<text transform="translate(652.5,925) scale(0.91,1)" x="0" y="0" text-anchor="middle" font-size="12" font-weight="normal" fill="#131722">Oct</text>
<text transform="translate(794.5,925) scale(0.91,1)" x="0" y="0" text-anchor="middle" font-size="12" font-weight="normal" fill="#131722">Nov</text>
<text transform="translate(911.5,925) scale(0.91,1)" x="0" y="0" text-anchor="middle" font-size="12" font-weight="normal" fill="#131722">Dec</text>
<text transform="translate(1046.5,925) scale(0.91,1)" x="0" y="0" text-anchor="middle" font-size="12" font-weight="bold" fill="#131722">2026</text>
<text transform="translate(1169.5,925) scale(0.91,1)" x="0" y="0" text-anchor="middle" font-size="12" font-weight="normal" fill="#131722">Feb</text>
<text transform="translate(1286.5,925) scale(0.91,1)" x="0" y="0" text-anchor="middle" font-size="12" font-weight="normal" fill="#131722">Mar</text>
<text transform="translate(1422.5,925) scale(0.91,1)" x="0" y="0" text-anchor="middle" font-size="12" font-weight="normal" fill="#131722">Apr</text>
<text x="10.5" y="19.3" font-size="13" fill="#131722" textLength="52.5" lengthAdjust="spacingAndGlyphs">B_R_A_D_</text>
<text x="67" y="19.3" font-size="13" fill="#131722" textLength="40.7" lengthAdjust="spacingAndGlyphs">created</text>
<text x="112.4" y="19.3" font-size="13" fill="#131722" textLength="22.1" lengthAdjust="spacingAndGlyphs">with</text>
<text x="139.2" y="19.3" font-size="13" fill="#131722" textLength="93.2" lengthAdjust="spacingAndGlyphs">TradingView.com,</text>
<text x="237.7" y="19.3" font-size="13" fill="#131722" textLength="18.3" lengthAdjust="spacingAndGlyphs">Feb</text>
<text x="261.3" y="19.3" font-size="13" fill="#131722" textLength="14.5" lengthAdjust="spacingAndGlyphs">04,</text>
<text x="281" y="19.3" font-size="13" fill="#131722" textLength="25.0" lengthAdjust="spacingAndGlyphs">2026</text>
<text x="310.4" y="19.3" font-size="13" fill="#131722" textLength="28.4" lengthAdjust="spacingAndGlyphs">06:02</text>
<text x="344" y="19.3" font-size="13" fill="#131722" textLength="32.9" lengthAdjust="spacingAndGlyphs">UTC+1</text>
<text x="17.9" y="46" font-size="12" fill="#131722" textLength="30.1" lengthAdjust="spacingAndGlyphs">Apple</text>
<text x="52.5" y="46" font-size="12" fill="#131722" textLength="14.5" lengthAdjust="spacingAndGlyphs">Inc</text>
<rect x="72.20" y="41.20" width="1.70" height="1.70" fill="#131722" />
<text x="80" y="46" font-size="12" fill="#131722" textLength="13.2" lengthAdjust="spacingAndGlyphs">1D</text>
<rect x="98.50" y="41.20" width="1.70" height="1.70" fill="#131722" />
<text x="105" y="46" font-size="12" fill="#131722" textLength="43.4" lengthAdjust="spacingAndGlyphs">NASDAQ</text>
<text x="155.7" y="46" font-size="12" fill="#131722" textLength="7.5" lengthAdjust="spacingAndGlyphs">O</text>
<text x="163.2" y="46" font-size="12" fill="#089981" textLength="35.8" lengthAdjust="spacingAndGlyphs">269.20</text>
<text x="206.7" y="46" font-size="12" fill="#131722" textLength="7.5" lengthAdjust="spacingAndGlyphs">H</text>
<text x="214.3" y="46" font-size="12" fill="#089981" textLength="35.8" lengthAdjust="spacingAndGlyphs">271.88</text>
<text x="258" y="46" font-size="12" fill="#131722" textLength="5.5" lengthAdjust="spacingAndGlyphs">L</text>
<text x="263.5" y="46" font-size="12" fill="#089981" textLength="35.2" lengthAdjust="spacingAndGlyphs">267.61</text>
<text x="306.7" y="46" font-size="12" fill="#131722" textLength="7" lengthAdjust="spacingAndGlyphs">C</text>
<text x="313.8" y="46" font-size="12" fill="#089981" textLength="35.8" lengthAdjust="spacingAndGlyphs">269.48</text>
<text x="357" y="46" font-size="12" fill="#089981" textLength="79" lengthAdjust="spacingAndGlyphs">−0.53 (−0.20%)</text>
<g fill="#131722"><path d="M12.1,957.1 H23.9 V971.9 H17.7 V963.1 H12.1 Z"/><circle cx="28.9" cy="959.9" r="2.9"/><path d="M35.2,957.1 H41.8 L35.7,971.9 H29.2 Z"/></g>
<text x="49.2" y="971.9" font-size="20.3" font-weight="bold" fill="#131722" textLength="120.6" lengthAdjust="spacingAndGlyphs">TradingView</text>
</svg></body></html>
